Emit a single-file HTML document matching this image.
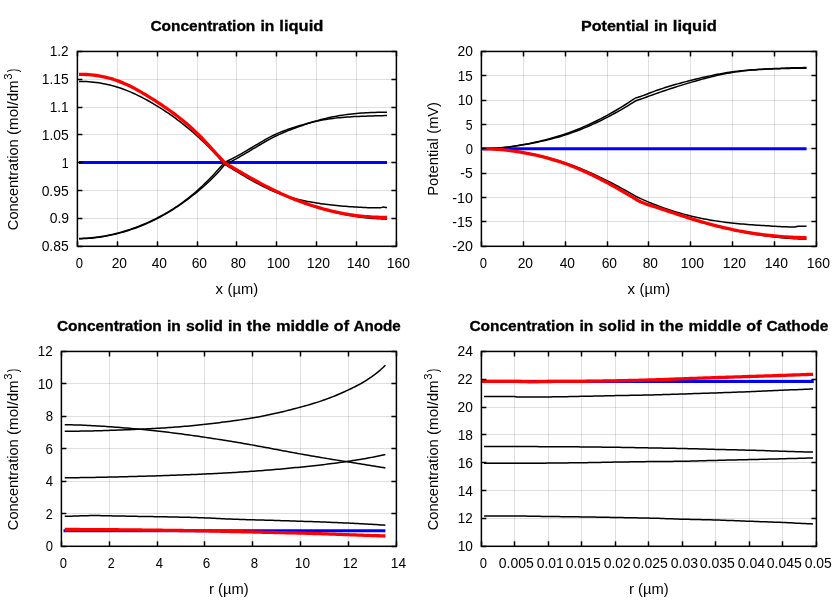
<!DOCTYPE html>
<html><head><meta charset="utf-8"><title>plots</title>
<style>html,body{margin:0;padding:0;background:#fff}svg{display:block;will-change:transform}text{font-family:"Liberation Sans",sans-serif;font-size:14.0px;fill:#000}</style>
</head><body>
<svg width="840" height="600" viewBox="0 0 840 600">
<rect width="840" height="600" fill="#fff"/>
<g id="p1">
<line x1="117.5" y1="51.45" x2="117.5" y2="246.3" stroke="#000" stroke-opacity="0.125" stroke-width="1"/>
<line x1="157.5" y1="51.45" x2="157.5" y2="246.3" stroke="#000" stroke-opacity="0.125" stroke-width="1"/>
<line x1="197.5" y1="51.45" x2="197.5" y2="246.3" stroke="#000" stroke-opacity="0.125" stroke-width="1"/>
<line x1="236.5" y1="51.45" x2="236.5" y2="246.3" stroke="#000" stroke-opacity="0.125" stroke-width="1"/>
<line x1="276.5" y1="51.45" x2="276.5" y2="246.3" stroke="#000" stroke-opacity="0.125" stroke-width="1"/>
<line x1="316.5" y1="51.45" x2="316.5" y2="246.3" stroke="#000" stroke-opacity="0.125" stroke-width="1"/>
<line x1="356.5" y1="51.45" x2="356.5" y2="246.3" stroke="#000" stroke-opacity="0.125" stroke-width="1"/>
<line x1="77.4" y1="218.5" x2="396.4" y2="218.5" stroke="#000" stroke-opacity="0.125" stroke-width="1"/>
<line x1="77.4" y1="190.5" x2="396.4" y2="190.5" stroke="#000" stroke-opacity="0.125" stroke-width="1"/>
<line x1="77.4" y1="162.5" x2="396.4" y2="162.5" stroke="#000" stroke-opacity="0.125" stroke-width="1"/>
<line x1="77.4" y1="134.5" x2="396.4" y2="134.5" stroke="#000" stroke-opacity="0.125" stroke-width="1"/>
<line x1="77.4" y1="107.5" x2="396.4" y2="107.5" stroke="#000" stroke-opacity="0.125" stroke-width="1"/>
<line x1="77.4" y1="79.5" x2="396.4" y2="79.5" stroke="#000" stroke-opacity="0.125" stroke-width="1"/>
<path d="M79.00 162.50 L387.03 162.50" fill="none" stroke="#0000ff" stroke-width="3.0" stroke-linejoin="round"/>
<path d="M79.00 238.40 L81.47 238.38 L83.94 238.31 L86.41 238.19 L88.88 238.03 L91.35 237.82 L93.82 237.57 L96.29 237.28 L98.76 236.95 L101.23 236.58 L103.70 236.16 L106.17 235.71 L108.64 235.21 L111.11 234.68 L113.58 234.12 L116.05 233.51 L118.52 232.87 L120.99 232.20 L123.46 231.49 L125.93 230.74 L128.40 229.96 L130.87 229.14 L133.34 228.28 L135.81 227.39 L138.28 226.45 L140.75 225.48 L143.22 224.47 L145.69 223.42 L148.16 222.32 L150.63 221.19 L153.10 220.02 L155.57 218.80 L158.04 217.54 L160.51 216.24 L162.98 214.89 L165.45 213.50 L167.92 212.06 L170.39 210.56 L172.86 209.02 L175.33 207.42 L177.80 205.77 L180.27 204.06 L182.74 202.29 L185.21 200.45 L187.68 198.56 L190.16 196.60 L192.63 194.58 L195.10 192.48 L197.57 190.32 L200.04 188.09 L202.51 185.78 L204.98 183.41 L207.45 180.98 L209.92 178.48 L212.39 175.91 L214.86 173.29 L217.33 170.60 L219.80 167.86 L222.27 165.06 L224.74 162.20 L227.09 161.16 L229.44 160.05 L231.79 158.89 L234.15 157.68 L236.50 156.42 L238.85 155.12 L241.20 153.79 L243.55 152.43 L245.91 151.05 L248.26 149.65 L250.61 148.25 L252.96 146.84 L255.31 145.43 L257.67 144.04 L260.02 142.66 L262.37 141.30 L264.72 139.97 L267.07 138.67 L269.43 137.41 L271.78 136.20 L274.13 135.04 L276.48 133.93 L278.84 132.89 L281.19 131.91 L283.54 130.98 L285.89 130.11 L288.24 129.27 L290.60 128.48 L292.95 127.71 L295.30 126.98 L297.65 126.27 L300.00 125.57 L302.36 124.89 L304.71 124.22 L307.06 123.57 L309.41 122.95 L311.76 122.35 L314.12 121.78 L316.47 121.24 L318.82 120.74 L321.17 120.27 L323.52 119.84 L325.88 119.44 L328.23 119.07 L330.58 118.73 L332.93 118.42 L335.28 118.13 L337.64 117.87 L339.99 117.64 L342.34 117.42 L344.69 117.22 L347.04 117.05 L349.40 116.89 L351.75 116.75 L354.10 116.62 L356.45 116.50 L358.80 116.40 L361.16 116.31 L363.51 116.22 L365.86 116.14 L368.21 116.07 L370.57 116.00 L372.92 115.93 L375.27 115.87 L377.62 115.80 L379.97 115.73 L382.33 115.66 L384.68 115.58 L387.03 115.50" fill="none" stroke="#000" stroke-width="1.5" stroke-linejoin="round"/>
<path d="M79.00 238.70 L81.47 238.68 L83.94 238.61 L86.41 238.49 L88.88 238.33 L91.35 238.13 L93.82 237.88 L96.29 237.60 L98.76 237.27 L101.23 236.90 L103.70 236.49 L106.17 236.05 L108.64 235.57 L111.11 235.05 L113.58 234.49 L116.05 233.90 L118.52 233.28 L120.99 232.63 L123.46 231.94 L125.93 231.21 L128.40 230.45 L130.87 229.65 L133.34 228.81 L135.81 227.93 L138.28 227.02 L140.75 226.06 L143.22 225.06 L145.69 224.02 L148.16 222.93 L150.63 221.80 L153.10 220.63 L155.57 219.41 L158.04 218.14 L160.51 216.82 L162.98 215.45 L165.45 214.04 L167.92 212.58 L170.39 211.08 L172.86 209.53 L175.33 207.93 L177.80 206.29 L180.27 204.60 L182.74 202.87 L185.21 201.10 L187.68 199.28 L190.16 197.41 L192.63 195.50 L195.10 193.55 L197.57 191.56 L200.04 189.52 L202.51 187.43 L204.98 185.27 L207.45 183.04 L209.92 180.73 L212.39 178.33 L214.86 175.82 L217.33 173.21 L219.80 170.47 L222.27 167.60 L224.74 164.60 L227.09 163.50 L229.44 162.35 L231.79 161.15 L234.15 159.91 L236.50 158.62 L238.85 157.30 L241.20 155.96 L243.55 154.58 L245.91 153.19 L248.26 151.79 L250.61 150.38 L252.96 148.96 L255.31 147.55 L257.67 146.14 L260.02 144.74 L262.37 143.36 L264.72 142.01 L267.07 140.68 L269.43 139.38 L271.78 138.12 L274.13 136.91 L276.48 135.74 L278.84 134.63 L281.19 133.56 L283.54 132.54 L285.89 131.56 L288.24 130.61 L290.60 129.70 L292.95 128.81 L295.30 127.95 L297.65 127.10 L300.00 126.26 L302.36 125.44 L304.71 124.62 L307.06 123.82 L309.41 123.04 L311.76 122.29 L314.12 121.55 L316.47 120.85 L318.82 120.18 L321.17 119.55 L323.52 118.95 L325.88 118.38 L328.23 117.84 L330.58 117.33 L332.93 116.85 L335.28 116.40 L337.64 115.98 L339.99 115.58 L342.34 115.21 L344.69 114.87 L347.04 114.55 L349.40 114.25 L351.75 113.98 L354.10 113.73 L356.45 113.51 L358.80 113.30 L361.16 113.12 L363.51 112.95 L365.86 112.80 L368.21 112.67 L370.57 112.56 L372.92 112.47 L375.27 112.39 L377.62 112.32 L379.97 112.27 L382.33 112.24 L384.68 112.21 L387.03 112.20" fill="none" stroke="#000" stroke-width="1.5" stroke-linejoin="round"/>
<path d="M79.00 81.40 L81.47 81.42 L83.94 81.49 L86.41 81.60 L88.88 81.75 L91.35 81.96 L93.82 82.21 L96.29 82.50 L98.76 82.85 L101.23 83.25 L103.70 83.70 L106.17 84.19 L108.64 84.75 L111.11 85.35 L113.58 86.01 L116.05 86.72 L118.52 87.49 L120.99 88.32 L123.46 89.20 L125.93 90.13 L128.40 91.12 L130.87 92.16 L133.34 93.24 L135.81 94.37 L138.28 95.56 L140.75 96.78 L143.22 98.05 L145.69 99.37 L148.16 100.73 L150.63 102.12 L153.10 103.56 L155.57 105.04 L158.04 106.55 L160.51 108.10 L162.98 109.69 L165.45 111.32 L167.92 112.98 L170.39 114.69 L172.86 116.44 L175.33 118.23 L177.80 120.06 L180.27 121.94 L182.74 123.86 L185.21 125.83 L187.68 127.84 L190.16 129.91 L192.63 132.02 L195.10 134.18 L197.57 136.39 L200.04 138.65 L202.51 140.97 L204.98 143.33 L207.45 145.76 L209.92 148.23 L212.39 150.77 L214.86 153.36 L217.33 156.00 L219.80 158.71 L222.27 161.47 L224.74 164.30 L226.97 165.66 L229.21 167.03 L231.45 168.39 L233.68 169.75 L235.92 171.11 L238.16 172.46 L240.39 173.80 L242.63 175.12 L244.87 176.44 L247.10 177.74 L249.34 179.02 L251.58 180.28 L253.81 181.53 L256.05 182.75 L258.29 183.94 L260.52 185.11 L262.76 186.25 L264.99 187.35 L267.23 188.43 L269.47 189.47 L271.70 190.47 L273.94 191.44 L276.18 192.36 L278.41 193.24 L280.65 194.08 L282.89 194.88 L285.12 195.64 L287.36 196.36 L289.60 197.04 L291.83 197.69 L294.07 198.31 L296.31 198.89 L298.54 199.45 L300.78 199.97 L303.01 200.47 L305.25 200.94 L307.49 201.39 L309.72 201.81 L311.96 202.22 L314.20 202.60 L316.43 202.97 L318.67 203.31 L320.91 203.64 L323.14 203.96 L325.38 204.26 L327.62 204.54 L329.85 204.81 L332.09 205.07 L334.33 205.31 L336.56 205.54 L338.80 205.76 L341.03 205.97 L343.27 206.16 L345.51 206.34 L347.74 206.51 L349.98 206.68 L352.22 206.83 L354.45 206.97 L356.69 207.11 L358.93 207.24 L361.16 207.35 L363.40 207.46 L365.64 207.56 L367.87 207.64 L370.11 207.72 L372.34 207.77 L374.58 207.82 L376.82 207.84 L379.05 207.85 L379.78 207.80 L380.50 207.72 L381.23 207.60 L381.25 207.60 L381.95 207.39 L382.68 207.14 L383.04 207.10 L383.40 207.11 L384.13 207.20 L384.84 207.30 L384.85 207.30 L385.58 207.41 L386.30 207.55 L387.03 207.70" fill="none" stroke="#000" stroke-width="1.5" stroke-linejoin="round"/>
<path d="M79.00 74.30 L81.47 74.32 L83.94 74.39 L86.41 74.51 L88.88 74.68 L91.35 74.90 L93.82 75.17 L96.29 75.49 L98.76 75.88 L101.23 76.32 L103.70 76.82 L106.17 77.38 L108.64 78.00 L111.11 78.69 L113.58 79.44 L116.05 80.27 L118.52 81.16 L120.99 82.12 L123.46 83.14 L125.93 84.23 L128.40 85.37 L130.87 86.57 L133.34 87.83 L135.81 89.13 L138.28 90.48 L140.75 91.88 L143.22 93.31 L145.69 94.78 L148.16 96.29 L150.63 97.82 L153.10 99.39 L155.57 100.97 L158.04 102.58 L160.51 104.21 L162.98 105.87 L165.45 107.55 L167.92 109.27 L170.39 111.02 L172.86 112.81 L175.33 114.65 L177.80 116.53 L180.27 118.46 L182.74 120.45 L185.21 122.50 L187.68 124.60 L190.16 126.78 L192.63 129.02 L195.10 131.34 L197.57 133.73 L200.04 136.20 L202.51 138.74 L204.98 141.33 L207.45 143.97 L209.92 146.64 L212.39 149.34 L214.86 152.05 L217.33 154.76 L219.80 157.46 L222.27 160.15 L224.74 162.80 L227.09 164.19 L229.44 165.59 L231.79 166.98 L234.15 168.37 L236.50 169.76 L238.85 171.15 L241.20 172.53 L243.55 173.90 L245.91 175.26 L248.26 176.61 L250.61 177.96 L252.96 179.29 L255.31 180.60 L257.67 181.91 L260.02 183.19 L262.37 184.47 L264.72 185.72 L267.07 186.95 L269.43 188.16 L271.78 189.35 L274.13 190.52 L276.48 191.66 L278.84 192.78 L281.19 193.87 L283.54 194.93 L285.89 195.97 L288.24 196.99 L290.60 197.98 L292.95 198.95 L295.30 199.89 L297.65 200.81 L300.00 201.71 L302.36 202.58 L304.71 203.43 L307.06 204.25 L309.41 205.06 L311.76 205.84 L314.12 206.60 L316.47 207.34 L318.82 208.06 L321.17 208.76 L323.52 209.44 L325.88 210.09 L328.23 210.72 L330.58 211.33 L332.93 211.92 L335.28 212.49 L337.64 213.04 L339.99 213.56 L342.34 214.06 L344.69 214.54 L347.04 214.99 L349.40 215.43 L351.75 215.84 L354.10 216.22 L356.45 216.59 L358.80 216.93 L361.16 217.25 L363.51 217.54 L365.86 217.81 L368.21 218.05 L370.57 218.27 L372.92 218.46 L375.27 218.62 L377.62 218.76 L379.97 218.86 L382.33 218.94 L384.68 218.98 L387.03 219.00" fill="none" stroke="#000" stroke-width="1.5" stroke-linejoin="round"/>
<path d="M79.00 74.30 L81.47 74.32 L83.94 74.39 L86.41 74.51 L88.88 74.68 L91.35 74.90 L93.82 75.17 L96.29 75.49 L98.76 75.88 L101.23 76.32 L103.70 76.82 L106.17 77.38 L108.64 78.00 L111.11 78.69 L113.58 79.44 L116.05 80.27 L118.52 81.16 L120.99 82.12 L123.46 83.14 L125.93 84.23 L128.40 85.37 L130.87 86.57 L133.34 87.83 L135.81 89.13 L138.28 90.48 L140.75 91.88 L143.22 93.31 L145.69 94.78 L148.16 96.29 L150.63 97.82 L153.10 99.39 L155.57 100.97 L158.04 102.58 L160.51 104.21 L162.98 105.87 L165.45 107.55 L167.92 109.27 L170.39 111.02 L172.86 112.81 L175.33 114.65 L177.80 116.53 L180.27 118.46 L182.74 120.45 L185.21 122.50 L187.68 124.60 L190.16 126.78 L192.63 129.02 L195.10 131.34 L197.57 133.73 L200.04 136.20 L202.51 138.74 L204.98 141.33 L207.45 143.97 L209.92 146.64 L212.39 149.34 L214.86 152.05 L217.33 154.76 L219.80 157.46 L222.27 160.15 L224.74 162.80 L227.09 164.20 L229.44 165.60 L231.79 166.99 L234.15 168.38 L236.50 169.76 L238.85 171.14 L241.20 172.51 L243.55 173.88 L245.91 175.23 L248.26 176.57 L250.61 177.91 L252.96 179.22 L255.31 180.53 L257.67 181.82 L260.02 183.09 L262.37 184.35 L264.72 185.59 L267.07 186.80 L269.43 188.00 L271.78 189.18 L274.13 190.33 L276.48 191.46 L278.84 192.57 L281.19 193.65 L283.54 194.70 L285.89 195.73 L288.24 196.74 L290.60 197.72 L292.95 198.68 L295.30 199.61 L297.65 200.52 L300.00 201.40 L302.36 202.26 L304.71 203.10 L307.06 203.92 L309.41 204.71 L311.76 205.48 L314.12 206.22 L316.47 206.95 L318.82 207.65 L321.17 208.32 L323.52 208.98 L325.88 209.61 L328.23 210.22 L330.58 210.80 L332.93 211.36 L335.28 211.89 L337.64 212.41 L339.99 212.89 L342.34 213.35 L344.69 213.79 L347.04 214.20 L349.40 214.59 L351.75 214.95 L354.10 215.28 L356.45 215.59 L358.80 215.87 L361.16 216.13 L363.51 216.36 L365.86 216.56 L368.21 216.75 L370.57 216.90 L372.92 217.04 L375.27 217.15 L377.62 217.24 L379.97 217.31 L382.33 217.36 L384.68 217.39 L387.03 217.40" fill="none" stroke="#ff0000" stroke-width="3.3" stroke-linejoin="round"/>
<line x1="77.5" y1="246.3" x2="77.5" y2="241.3" stroke="#000" stroke-width="1.5"/>
<line x1="77.5" y1="51.45" x2="77.5" y2="56.45" stroke="#000" stroke-width="1.5"/>
<text x="75.77" y="267.70" textLength="7.25" lengthAdjust="spacingAndGlyphs" style="font-size:14.1px">0</text>
<line x1="117.5" y1="246.3" x2="117.5" y2="241.3" stroke="#000" stroke-width="1.5"/>
<line x1="117.5" y1="51.45" x2="117.5" y2="56.45" stroke="#000" stroke-width="1.5"/>
<text x="111.68" y="267.70" textLength="15.37" lengthAdjust="spacingAndGlyphs" style="font-size:14.1px">20</text>
<line x1="157.5" y1="246.3" x2="157.5" y2="241.3" stroke="#000" stroke-width="1.5"/>
<line x1="157.5" y1="51.45" x2="157.5" y2="56.45" stroke="#000" stroke-width="1.5"/>
<text x="151.73" y="267.70" textLength="15.32" lengthAdjust="spacingAndGlyphs" style="font-size:14.1px">40</text>
<line x1="197.5" y1="246.3" x2="197.5" y2="241.3" stroke="#000" stroke-width="1.5"/>
<line x1="197.5" y1="51.45" x2="197.5" y2="56.45" stroke="#000" stroke-width="1.5"/>
<text x="191.63" y="267.70" textLength="15.43" lengthAdjust="spacingAndGlyphs" style="font-size:14.1px">60</text>
<line x1="236.5" y1="246.3" x2="236.5" y2="241.3" stroke="#000" stroke-width="1.5"/>
<line x1="236.5" y1="51.45" x2="236.5" y2="56.45" stroke="#000" stroke-width="1.5"/>
<text x="230.71" y="267.70" textLength="15.35" lengthAdjust="spacingAndGlyphs" style="font-size:14.1px">80</text>
<line x1="276.5" y1="246.3" x2="276.5" y2="241.3" stroke="#000" stroke-width="1.5"/>
<line x1="276.5" y1="51.45" x2="276.5" y2="56.45" stroke="#000" stroke-width="1.5"/>
<text x="266.80" y="267.70" textLength="23.26" lengthAdjust="spacingAndGlyphs" style="font-size:14.1px">100</text>
<line x1="316.5" y1="246.3" x2="316.5" y2="241.3" stroke="#000" stroke-width="1.5"/>
<line x1="316.5" y1="51.45" x2="316.5" y2="56.45" stroke="#000" stroke-width="1.5"/>
<text x="306.80" y="267.70" textLength="23.26" lengthAdjust="spacingAndGlyphs" style="font-size:14.1px">120</text>
<line x1="356.5" y1="246.3" x2="356.5" y2="241.3" stroke="#000" stroke-width="1.5"/>
<line x1="356.5" y1="51.45" x2="356.5" y2="56.45" stroke="#000" stroke-width="1.5"/>
<text x="346.80" y="267.70" textLength="23.26" lengthAdjust="spacingAndGlyphs" style="font-size:14.1px">140</text>
<line x1="396.5" y1="246.3" x2="396.5" y2="241.3" stroke="#000" stroke-width="1.5"/>
<line x1="396.5" y1="51.45" x2="396.5" y2="56.45" stroke="#000" stroke-width="1.5"/>
<text x="386.80" y="267.70" textLength="23.26" lengthAdjust="spacingAndGlyphs" style="font-size:14.1px">160</text>
<line x1="77.4" y1="246.5" x2="82.4" y2="246.5" stroke="#000" stroke-width="1.5"/>
<line x1="396.4" y1="246.5" x2="391.4" y2="246.5" stroke="#000" stroke-width="1.5"/>
<text x="41.64" y="250.90" textLength="27.08" lengthAdjust="spacingAndGlyphs" style="font-size:14.1px">0.85</text>
<line x1="77.4" y1="218.5" x2="82.4" y2="218.5" stroke="#000" stroke-width="1.5"/>
<line x1="396.4" y1="218.5" x2="391.4" y2="218.5" stroke="#000" stroke-width="1.5"/>
<text x="49.63" y="222.90" textLength="19.39" lengthAdjust="spacingAndGlyphs" style="font-size:14.1px">0.9</text>
<line x1="77.4" y1="190.5" x2="82.4" y2="190.5" stroke="#000" stroke-width="1.5"/>
<line x1="396.4" y1="190.5" x2="391.4" y2="190.5" stroke="#000" stroke-width="1.5"/>
<text x="41.64" y="195.90" textLength="27.08" lengthAdjust="spacingAndGlyphs" style="font-size:14.1px">0.95</text>
<line x1="77.4" y1="162.5" x2="82.4" y2="162.5" stroke="#000" stroke-width="1.5"/>
<line x1="396.4" y1="162.5" x2="391.4" y2="162.5" stroke="#000" stroke-width="1.5"/>
<text x="61.83" y="167.90" textLength="6.84" lengthAdjust="spacingAndGlyphs" style="font-size:14.1px">1</text>
<line x1="77.4" y1="134.5" x2="82.4" y2="134.5" stroke="#000" stroke-width="1.5"/>
<line x1="396.4" y1="134.5" x2="391.4" y2="134.5" stroke="#000" stroke-width="1.5"/>
<text x="41.71" y="139.90" textLength="27.01" lengthAdjust="spacingAndGlyphs" style="font-size:14.1px">1.05</text>
<line x1="77.4" y1="107.5" x2="82.4" y2="107.5" stroke="#000" stroke-width="1.5"/>
<line x1="396.4" y1="107.5" x2="391.4" y2="107.5" stroke="#000" stroke-width="1.5"/>
<text x="49.72" y="111.90" textLength="19.01" lengthAdjust="spacingAndGlyphs" style="font-size:14.1px">1.1</text>
<line x1="77.4" y1="79.5" x2="82.4" y2="79.5" stroke="#000" stroke-width="1.5"/>
<line x1="396.4" y1="79.5" x2="391.4" y2="79.5" stroke="#000" stroke-width="1.5"/>
<text x="41.71" y="83.90" textLength="27.01" lengthAdjust="spacingAndGlyphs" style="font-size:14.1px">1.15</text>
<line x1="77.4" y1="51.5" x2="82.4" y2="51.5" stroke="#000" stroke-width="1.5"/>
<line x1="396.4" y1="51.5" x2="391.4" y2="51.5" stroke="#000" stroke-width="1.5"/>
<text x="49.73" y="55.90" textLength="18.92" lengthAdjust="spacingAndGlyphs" style="font-size:14.1px">1.2</text>
<rect x="77.4" y="51.45" width="319.0" height="194.85000000000002" fill="none" stroke="#000" stroke-width="1.5"/>
<text x="215.62" y="293.50" textLength="7.51" lengthAdjust="spacingAndGlyphs" style="font-size:14.0px">x</text>
<text x="227.63" y="293.50" textLength="30.53" lengthAdjust="spacingAndGlyphs" style="font-size:14.0px">(µm)</text>
<text x="150.43" y="30.65" textLength="104.89" lengthAdjust="spacingAndGlyphs" font-weight="bold" stroke="#000" stroke-width="0.3" style="font-size:14.0px">Concentration</text>
<text x="260.43" y="30.65" textLength="13.90" lengthAdjust="spacingAndGlyphs" font-weight="bold" stroke="#000" stroke-width="0.3" style="font-size:14.0px">in</text>
<text x="279.37" y="30.65" textLength="44.00" lengthAdjust="spacingAndGlyphs" font-weight="bold" stroke="#000" stroke-width="0.3" style="font-size:14.0px">liquid</text>
<g transform="rotate(-90 17.60 149.18)">
<text x="-63.39" y="149.18" textLength="90.81" lengthAdjust="spacingAndGlyphs" style="font-size:14.0px">Concentration</text>
<text x="31.81" y="149.18" textLength="54.66" lengthAdjust="spacingAndGlyphs" style="font-size:14.0px">(mol/dm</text>
<text x="86.98" y="143.48" textLength="6.26" lengthAdjust="spacingAndGlyphs" style="font-size:11.2px">3</text>
<text x="94.61" y="149.18" textLength="3.50" lengthAdjust="spacingAndGlyphs" style="font-size:14.0px">)</text>
</g>
</g>
<g id="p2">
<line x1="523.5" y1="51.45" x2="523.5" y2="246.3" stroke="#000" stroke-opacity="0.125" stroke-width="1"/>
<line x1="565.5" y1="51.45" x2="565.5" y2="246.3" stroke="#000" stroke-opacity="0.125" stroke-width="1"/>
<line x1="607.5" y1="51.45" x2="607.5" y2="246.3" stroke="#000" stroke-opacity="0.125" stroke-width="1"/>
<line x1="648.5" y1="51.45" x2="648.5" y2="246.3" stroke="#000" stroke-opacity="0.125" stroke-width="1"/>
<line x1="690.5" y1="51.45" x2="690.5" y2="246.3" stroke="#000" stroke-opacity="0.125" stroke-width="1"/>
<line x1="732.5" y1="51.45" x2="732.5" y2="246.3" stroke="#000" stroke-opacity="0.125" stroke-width="1"/>
<line x1="774.5" y1="51.45" x2="774.5" y2="246.3" stroke="#000" stroke-opacity="0.125" stroke-width="1"/>
<line x1="481.4" y1="221.5" x2="816.4" y2="221.5" stroke="#000" stroke-opacity="0.125" stroke-width="1"/>
<line x1="481.4" y1="197.5" x2="816.4" y2="197.5" stroke="#000" stroke-opacity="0.125" stroke-width="1"/>
<line x1="481.4" y1="173.5" x2="816.4" y2="173.5" stroke="#000" stroke-opacity="0.125" stroke-width="1"/>
<line x1="481.4" y1="148.5" x2="816.4" y2="148.5" stroke="#000" stroke-opacity="0.125" stroke-width="1"/>
<line x1="481.4" y1="124.5" x2="816.4" y2="124.5" stroke="#000" stroke-opacity="0.125" stroke-width="1"/>
<line x1="481.4" y1="100.5" x2="816.4" y2="100.5" stroke="#000" stroke-opacity="0.125" stroke-width="1"/>
<line x1="481.4" y1="75.5" x2="816.4" y2="75.5" stroke="#000" stroke-opacity="0.125" stroke-width="1"/>
<path d="M482.03 148.80 L806.56 148.80" fill="none" stroke="#0000ff" stroke-width="3.0" stroke-linejoin="round"/>
<path d="M483.07 148.80 L485.66 148.78 L488.24 148.72 L490.83 148.61 L493.41 148.47 L495.99 148.29 L498.58 148.08 L501.16 147.83 L503.74 147.55 L506.33 147.24 L508.91 146.91 L511.49 146.54 L514.08 146.16 L516.66 145.75 L519.24 145.31 L521.83 144.86 L524.41 144.39 L526.99 143.90 L529.58 143.40 L532.16 142.87 L534.74 142.33 L537.33 141.76 L539.91 141.17 L542.49 140.55 L545.08 139.91 L547.66 139.25 L550.25 138.56 L552.83 137.84 L555.41 137.09 L558.00 136.32 L560.58 135.51 L563.16 134.67 L565.75 133.80 L568.33 132.89 L570.91 131.95 L573.50 130.98 L576.08 129.97 L578.66 128.93 L581.25 127.86 L583.83 126.76 L586.41 125.62 L589.00 124.45 L591.58 123.25 L594.16 122.02 L596.75 120.75 L599.33 119.45 L601.91 118.12 L604.50 116.76 L607.08 115.37 L609.67 113.94 L612.25 112.49 L614.83 111.00 L617.42 109.48 L620.00 107.94 L622.58 106.36 L625.17 104.75 L627.75 103.10 L630.33 101.43 L632.92 99.73 L635.50 98.00 L637.98 97.31 L640.46 96.51 L642.94 95.63 L645.42 94.70 L647.90 93.74 L650.37 92.78 L652.85 91.83 L655.33 90.92 L657.81 90.04 L660.29 89.18 L662.77 88.36 L665.25 87.55 L667.73 86.78 L670.21 86.02 L672.69 85.28 L675.17 84.57 L677.65 83.87 L680.12 83.19 L682.60 82.52 L685.08 81.86 L687.56 81.22 L690.04 80.59 L692.52 79.96 L695.00 79.34 L697.48 78.74 L699.96 78.14 L702.44 77.55 L704.92 76.98 L707.39 76.42 L709.87 75.88 L712.35 75.36 L714.83 74.85 L717.31 74.36 L719.79 73.89 L722.27 73.43 L724.75 73.01 L727.23 72.60 L729.71 72.22 L732.19 71.86 L734.66 71.53 L737.14 71.23 L739.62 70.95 L742.10 70.69 L744.58 70.45 L747.06 70.23 L749.54 70.03 L752.02 69.84 L754.50 69.67 L756.98 69.51 L759.46 69.36 L761.94 69.22 L764.41 69.09 L766.89 68.96 L769.37 68.84 L771.85 68.72 L774.33 68.61 L776.81 68.49 L779.29 68.38 L781.77 68.27 L784.25 68.16 L786.73 68.06 L789.21 67.96 L791.68 67.87 L794.16 67.80 L796.64 67.73 L799.12 67.67 L801.60 67.63 L804.08 67.61 L806.56 67.60" fill="none" stroke="#000" stroke-width="1.5" stroke-linejoin="round"/>
<path d="M483.07 148.80 L485.66 148.78 L488.24 148.72 L490.83 148.62 L493.41 148.48 L495.99 148.31 L498.58 148.10 L501.16 147.86 L503.74 147.59 L506.33 147.30 L508.91 146.98 L511.49 146.63 L514.08 146.26 L516.66 145.87 L519.24 145.47 L521.83 145.04 L524.41 144.61 L526.99 144.15 L529.58 143.69 L532.16 143.20 L534.74 142.70 L537.33 142.18 L539.91 141.63 L542.49 141.07 L545.08 140.48 L547.66 139.87 L550.25 139.23 L552.83 138.57 L555.41 137.88 L558.00 137.16 L560.58 136.41 L563.16 135.62 L565.75 134.81 L568.33 133.96 L570.91 133.08 L573.50 132.16 L576.08 131.21 L578.66 130.23 L581.25 129.22 L583.83 128.17 L586.41 127.09 L589.00 125.99 L591.58 124.85 L594.16 123.68 L596.75 122.47 L599.33 121.24 L601.91 119.98 L604.50 118.69 L607.08 117.37 L609.67 116.02 L612.25 114.64 L614.83 113.24 L617.42 111.80 L620.00 110.34 L622.58 108.85 L625.17 107.33 L627.75 105.79 L630.33 104.22 L632.92 102.62 L635.50 101.00 L637.98 100.02 L640.46 99.20 L642.94 98.34 L645.42 97.46 L647.90 96.56 L650.37 95.65 L652.85 94.76 L655.33 93.87 L657.81 92.99 L660.29 92.13 L662.77 91.28 L665.25 90.44 L667.73 89.61 L670.21 88.79 L672.69 87.98 L675.17 87.19 L677.65 86.40 L680.12 85.62 L682.60 84.86 L685.08 84.10 L687.56 83.35 L690.04 82.62 L692.52 81.89 L695.00 81.17 L697.48 80.47 L699.96 79.78 L702.44 79.10 L704.92 78.43 L707.39 77.79 L709.87 77.16 L712.35 76.55 L714.83 75.96 L717.31 75.39 L719.79 74.84 L722.27 74.31 L724.75 73.81 L727.23 73.34 L729.71 72.89 L732.19 72.48 L734.66 72.09 L737.14 71.72 L739.62 71.39 L742.10 71.08 L744.58 70.80 L747.06 70.54 L749.54 70.30 L752.02 70.08 L754.50 69.88 L756.98 69.70 L759.46 69.53 L761.94 69.38 L764.41 69.25 L766.89 69.12 L769.37 69.01 L771.85 68.90 L774.33 68.81 L776.81 68.72 L779.29 68.64 L781.77 68.56 L784.25 68.49 L786.73 68.43 L789.21 68.38 L791.68 68.33 L794.16 68.29 L796.64 68.26 L799.12 68.23 L801.60 68.21 L804.08 68.20 L806.56 68.20" fill="none" stroke="#000" stroke-width="1.5" stroke-linejoin="round"/>
<path d="M483.07 148.80 L485.66 148.82 L488.24 148.86 L490.83 148.94 L493.41 149.04 L495.99 149.18 L498.58 149.34 L501.16 149.54 L503.74 149.76 L506.33 150.01 L508.91 150.28 L511.49 150.59 L514.08 150.92 L516.66 151.27 L519.24 151.65 L521.83 152.06 L524.41 152.49 L526.99 152.95 L529.58 153.43 L532.16 153.94 L534.74 154.47 L537.33 155.03 L539.91 155.62 L542.49 156.23 L545.08 156.87 L547.66 157.54 L550.25 158.23 L552.83 158.96 L555.41 159.71 L558.00 160.49 L560.58 161.30 L563.16 162.13 L565.75 163.00 L568.33 163.90 L570.91 164.83 L573.50 165.78 L576.08 166.77 L578.66 167.78 L581.25 168.82 L583.83 169.89 L586.41 170.98 L589.00 172.10 L591.58 173.24 L594.16 174.41 L596.75 175.61 L599.33 176.83 L601.91 178.07 L604.50 179.34 L607.08 180.63 L609.67 181.94 L612.25 183.27 L614.83 184.63 L617.42 186.01 L620.00 187.41 L622.58 188.82 L625.17 190.26 L627.75 191.72 L630.33 193.19 L632.92 194.69 L635.50 196.20 L637.79 197.27 L640.08 198.33 L642.36 199.36 L644.65 200.37 L646.94 201.35 L649.23 202.32 L651.52 203.26 L653.80 204.18 L656.09 205.07 L658.38 205.95 L660.67 206.80 L662.96 207.63 L665.24 208.44 L667.53 209.23 L669.82 210.00 L672.11 210.74 L674.40 211.46 L676.68 212.16 L678.97 212.84 L681.26 213.50 L683.55 214.13 L685.83 214.75 L688.12 215.34 L690.41 215.91 L692.70 216.46 L694.99 216.99 L697.27 217.50 L699.56 217.98 L701.85 218.45 L704.14 218.90 L706.43 219.33 L708.71 219.74 L711.00 220.14 L713.29 220.52 L715.58 220.88 L717.87 221.22 L720.15 221.55 L722.44 221.87 L724.73 222.17 L727.02 222.45 L729.31 222.73 L731.59 222.98 L733.88 223.23 L736.17 223.47 L738.46 223.69 L740.75 223.90 L743.03 224.10 L745.32 224.30 L747.61 224.48 L749.90 224.66 L752.19 224.83 L754.47 224.99 L756.76 225.15 L759.05 225.30 L761.34 225.45 L763.63 225.59 L765.91 225.73 L768.20 225.87 L770.49 226.01 L772.78 226.15 L775.07 226.28 L777.35 226.42 L779.64 226.55 L781.93 226.67 L784.22 226.78 L786.50 226.87 L788.79 226.94 L791.08 226.98 L793.37 227.00 L794.57 226.93 L795.77 226.81 L795.88 226.80 L796.97 226.58 L798.17 226.32 L798.39 226.30 L799.36 226.25 L800.56 226.21 L801.74 226.20 L801.76 226.20 L802.96 226.20 L804.16 226.20 L805.36 226.20 L806.56 226.20" fill="none" stroke="#000" stroke-width="1.5" stroke-linejoin="round"/>
<path d="M483.07 148.80 L485.66 148.82 L488.24 148.87 L490.83 148.96 L493.41 149.07 L495.99 149.23 L498.58 149.41 L501.16 149.62 L503.74 149.86 L506.33 150.14 L508.91 150.44 L511.49 150.77 L514.08 151.12 L516.66 151.51 L519.24 151.91 L521.83 152.35 L524.41 152.80 L526.99 153.28 L529.58 153.79 L532.16 154.32 L534.74 154.88 L537.33 155.46 L539.91 156.07 L542.49 156.71 L545.08 157.38 L547.66 158.07 L550.25 158.80 L552.83 159.55 L555.41 160.34 L558.00 161.16 L560.58 162.01 L563.16 162.90 L565.75 163.82 L568.33 164.77 L570.91 165.75 L573.50 166.77 L576.08 167.82 L578.66 168.90 L581.25 170.02 L583.83 171.16 L586.41 172.33 L589.00 173.53 L591.58 174.75 L594.16 176.00 L596.75 177.28 L599.33 178.58 L601.91 179.91 L604.50 181.26 L607.08 182.63 L609.67 184.02 L612.25 185.44 L614.83 186.88 L617.42 188.33 L620.00 189.80 L622.58 191.30 L625.17 192.81 L627.75 194.33 L630.33 195.87 L632.92 197.43 L635.50 199.00 L637.98 200.47 L640.46 201.73 L642.94 202.80 L645.42 203.75 L647.90 204.60 L650.37 205.40 L652.85 206.20 L655.33 207.00 L657.81 207.81 L660.29 208.64 L662.77 209.47 L665.25 210.30 L667.73 211.14 L670.21 211.98 L672.69 212.82 L675.17 213.66 L677.65 214.50 L680.12 215.33 L682.60 216.15 L685.08 216.97 L687.56 217.77 L690.04 218.57 L692.52 219.35 L695.00 220.11 L697.48 220.87 L699.96 221.60 L702.44 222.33 L704.92 223.04 L707.39 223.73 L709.87 224.41 L712.35 225.08 L714.83 225.73 L717.31 226.37 L719.79 227.00 L722.27 227.61 L724.75 228.20 L727.23 228.78 L729.71 229.35 L732.19 229.90 L734.66 230.44 L737.14 230.96 L739.62 231.46 L742.10 231.96 L744.58 232.44 L747.06 232.90 L749.54 233.35 L752.02 233.78 L754.50 234.20 L756.98 234.60 L759.46 234.98 L761.94 235.36 L764.41 235.71 L766.89 236.05 L769.37 236.38 L771.85 236.68 L774.33 236.98 L776.81 237.25 L779.29 237.51 L781.77 237.76 L784.25 237.98 L786.73 238.18 L789.21 238.37 L791.68 238.53 L794.16 238.67 L796.64 238.79 L799.12 238.88 L801.60 238.95 L804.08 238.99 L806.56 239.00" fill="none" stroke="#000" stroke-width="1.5" stroke-linejoin="round"/>
<path d="M483.07 148.80 L485.66 148.82 L488.24 148.87 L490.83 148.96 L493.41 149.07 L495.99 149.23 L498.58 149.41 L501.16 149.62 L503.74 149.86 L506.33 150.14 L508.91 150.44 L511.49 150.77 L514.08 151.12 L516.66 151.51 L519.24 151.91 L521.83 152.35 L524.41 152.80 L526.99 153.28 L529.58 153.79 L532.16 154.32 L534.74 154.88 L537.33 155.46 L539.91 156.07 L542.49 156.71 L545.08 157.38 L547.66 158.07 L550.25 158.80 L552.83 159.55 L555.41 160.34 L558.00 161.16 L560.58 162.01 L563.16 162.90 L565.75 163.82 L568.33 164.77 L570.91 165.75 L573.50 166.77 L576.08 167.82 L578.66 168.90 L581.25 170.02 L583.83 171.16 L586.41 172.33 L589.00 173.53 L591.58 174.75 L594.16 176.00 L596.75 177.28 L599.33 178.58 L601.91 179.91 L604.50 181.26 L607.08 182.63 L609.67 184.02 L612.25 185.44 L614.83 186.88 L617.42 188.33 L620.00 189.80 L622.58 191.30 L625.17 192.81 L627.75 194.33 L630.33 195.87 L632.92 197.43 L635.50 199.00 L637.98 200.47 L640.46 201.73 L642.94 202.81 L645.42 203.75 L647.90 204.60 L650.37 205.40 L652.85 206.19 L655.33 206.99 L657.81 207.80 L660.29 208.61 L662.77 209.43 L665.25 210.25 L667.73 211.08 L670.21 211.91 L672.69 212.73 L675.17 213.55 L677.65 214.37 L680.12 215.19 L682.60 216.00 L685.08 216.80 L687.56 217.59 L690.04 218.37 L692.52 219.14 L695.00 219.89 L697.48 220.64 L699.96 221.36 L702.44 222.08 L704.92 222.78 L707.39 223.47 L709.87 224.14 L712.35 224.80 L714.83 225.44 L717.31 226.07 L719.79 226.68 L722.27 227.28 L724.75 227.86 L727.23 228.42 L729.71 228.97 L732.19 229.50 L734.66 230.02 L737.14 230.52 L739.62 231.00 L742.10 231.46 L744.58 231.91 L747.06 232.34 L749.54 232.75 L752.02 233.15 L754.50 233.53 L756.98 233.90 L759.46 234.24 L761.94 234.57 L764.41 234.89 L766.89 235.19 L769.37 235.47 L771.85 235.73 L774.33 235.98 L776.81 236.21 L779.29 236.43 L781.77 236.63 L784.25 236.81 L786.73 236.97 L789.21 237.12 L791.68 237.24 L794.16 237.35 L796.64 237.44 L799.12 237.51 L801.60 237.56 L804.08 237.59 L806.56 237.60" fill="none" stroke="#ff0000" stroke-width="3.3" stroke-linejoin="round"/>
<line x1="481.5" y1="246.3" x2="481.5" y2="241.3" stroke="#000" stroke-width="1.5"/>
<line x1="481.5" y1="51.45" x2="481.5" y2="56.45" stroke="#000" stroke-width="1.5"/>
<text x="479.77" y="267.70" textLength="7.25" lengthAdjust="spacingAndGlyphs" style="font-size:14.1px">0</text>
<line x1="523.5" y1="246.3" x2="523.5" y2="241.3" stroke="#000" stroke-width="1.5"/>
<line x1="523.5" y1="51.45" x2="523.5" y2="56.45" stroke="#000" stroke-width="1.5"/>
<text x="517.68" y="267.70" textLength="15.37" lengthAdjust="spacingAndGlyphs" style="font-size:14.1px">20</text>
<line x1="565.5" y1="246.3" x2="565.5" y2="241.3" stroke="#000" stroke-width="1.5"/>
<line x1="565.5" y1="51.45" x2="565.5" y2="56.45" stroke="#000" stroke-width="1.5"/>
<text x="559.73" y="267.70" textLength="15.32" lengthAdjust="spacingAndGlyphs" style="font-size:14.1px">40</text>
<line x1="607.5" y1="246.3" x2="607.5" y2="241.3" stroke="#000" stroke-width="1.5"/>
<line x1="607.5" y1="51.45" x2="607.5" y2="56.45" stroke="#000" stroke-width="1.5"/>
<text x="601.63" y="267.70" textLength="15.43" lengthAdjust="spacingAndGlyphs" style="font-size:14.1px">60</text>
<line x1="648.5" y1="246.3" x2="648.5" y2="241.3" stroke="#000" stroke-width="1.5"/>
<line x1="648.5" y1="51.45" x2="648.5" y2="56.45" stroke="#000" stroke-width="1.5"/>
<text x="642.71" y="267.70" textLength="15.35" lengthAdjust="spacingAndGlyphs" style="font-size:14.1px">80</text>
<line x1="690.5" y1="246.3" x2="690.5" y2="241.3" stroke="#000" stroke-width="1.5"/>
<line x1="690.5" y1="51.45" x2="690.5" y2="56.45" stroke="#000" stroke-width="1.5"/>
<text x="680.80" y="267.70" textLength="23.26" lengthAdjust="spacingAndGlyphs" style="font-size:14.1px">100</text>
<line x1="732.5" y1="246.3" x2="732.5" y2="241.3" stroke="#000" stroke-width="1.5"/>
<line x1="732.5" y1="51.45" x2="732.5" y2="56.45" stroke="#000" stroke-width="1.5"/>
<text x="722.80" y="267.70" textLength="23.26" lengthAdjust="spacingAndGlyphs" style="font-size:14.1px">120</text>
<line x1="774.5" y1="246.3" x2="774.5" y2="241.3" stroke="#000" stroke-width="1.5"/>
<line x1="774.5" y1="51.45" x2="774.5" y2="56.45" stroke="#000" stroke-width="1.5"/>
<text x="764.80" y="267.70" textLength="23.26" lengthAdjust="spacingAndGlyphs" style="font-size:14.1px">140</text>
<line x1="816.5" y1="246.3" x2="816.5" y2="241.3" stroke="#000" stroke-width="1.5"/>
<line x1="816.5" y1="51.45" x2="816.5" y2="56.45" stroke="#000" stroke-width="1.5"/>
<text x="806.80" y="267.70" textLength="23.26" lengthAdjust="spacingAndGlyphs" style="font-size:14.1px">160</text>
<line x1="481.4" y1="246.5" x2="486.4" y2="246.5" stroke="#000" stroke-width="1.5"/>
<line x1="816.4" y1="246.5" x2="811.4" y2="246.5" stroke="#000" stroke-width="1.5"/>
<text x="452.32" y="250.90" textLength="20.66" lengthAdjust="spacingAndGlyphs" style="font-size:14.1px">-20</text>
<line x1="481.4" y1="221.5" x2="486.4" y2="221.5" stroke="#000" stroke-width="1.5"/>
<line x1="816.4" y1="221.5" x2="811.4" y2="221.5" stroke="#000" stroke-width="1.5"/>
<text x="452.32" y="226.90" textLength="20.40" lengthAdjust="spacingAndGlyphs" style="font-size:14.1px">-15</text>
<line x1="481.4" y1="197.5" x2="486.4" y2="197.5" stroke="#000" stroke-width="1.5"/>
<line x1="816.4" y1="197.5" x2="811.4" y2="197.5" stroke="#000" stroke-width="1.5"/>
<text x="452.32" y="202.90" textLength="20.66" lengthAdjust="spacingAndGlyphs" style="font-size:14.1px">-10</text>
<line x1="481.4" y1="173.5" x2="486.4" y2="173.5" stroke="#000" stroke-width="1.5"/>
<line x1="816.4" y1="173.5" x2="811.4" y2="173.5" stroke="#000" stroke-width="1.5"/>
<text x="460.33" y="177.90" textLength="12.39" lengthAdjust="spacingAndGlyphs" style="font-size:14.1px">-5</text>
<line x1="481.4" y1="148.5" x2="486.4" y2="148.5" stroke="#000" stroke-width="1.5"/>
<line x1="816.4" y1="148.5" x2="811.4" y2="148.5" stroke="#000" stroke-width="1.5"/>
<text x="465.67" y="153.90" textLength="7.25" lengthAdjust="spacingAndGlyphs" style="font-size:14.1px">0</text>
<line x1="481.4" y1="124.5" x2="486.4" y2="124.5" stroke="#000" stroke-width="1.5"/>
<line x1="816.4" y1="124.5" x2="811.4" y2="124.5" stroke="#000" stroke-width="1.5"/>
<text x="465.84" y="129.90" textLength="6.81" lengthAdjust="spacingAndGlyphs" style="font-size:14.1px">5</text>
<line x1="481.4" y1="100.5" x2="486.4" y2="100.5" stroke="#000" stroke-width="1.5"/>
<line x1="816.4" y1="100.5" x2="811.4" y2="100.5" stroke="#000" stroke-width="1.5"/>
<text x="457.72" y="104.90" textLength="15.23" lengthAdjust="spacingAndGlyphs" style="font-size:14.1px">10</text>
<line x1="481.4" y1="75.5" x2="486.4" y2="75.5" stroke="#000" stroke-width="1.5"/>
<line x1="816.4" y1="75.5" x2="811.4" y2="75.5" stroke="#000" stroke-width="1.5"/>
<text x="457.74" y="80.90" textLength="14.96" lengthAdjust="spacingAndGlyphs" style="font-size:14.1px">15</text>
<line x1="481.4" y1="51.5" x2="486.4" y2="51.5" stroke="#000" stroke-width="1.5"/>
<line x1="816.4" y1="51.5" x2="811.4" y2="51.5" stroke="#000" stroke-width="1.5"/>
<text x="457.58" y="55.90" textLength="15.37" lengthAdjust="spacingAndGlyphs" style="font-size:14.1px">20</text>
<rect x="481.4" y="51.45" width="335.0" height="194.85000000000002" fill="none" stroke="#000" stroke-width="1.5"/>
<text x="627.62" y="293.50" textLength="7.51" lengthAdjust="spacingAndGlyphs" style="font-size:14.0px">x</text>
<text x="639.63" y="293.50" textLength="30.53" lengthAdjust="spacingAndGlyphs" style="font-size:14.0px">(µm)</text>
<text x="581.05" y="30.65" textLength="67.87" lengthAdjust="spacingAndGlyphs" font-weight="bold" stroke="#000" stroke-width="0.3" style="font-size:14.0px">Potential</text>
<text x="653.93" y="30.65" textLength="13.90" lengthAdjust="spacingAndGlyphs" font-weight="bold" stroke="#000" stroke-width="0.3" style="font-size:14.0px">in</text>
<text x="672.87" y="30.65" textLength="44.00" lengthAdjust="spacingAndGlyphs" font-weight="bold" stroke="#000" stroke-width="0.3" style="font-size:14.0px">liquid</text>
<g transform="rotate(-90 437.60 148.88)">
<text x="390.69" y="148.88" textLength="57.65" lengthAdjust="spacingAndGlyphs" style="font-size:14.0px">Potential</text>
<text x="452.84" y="148.88" textLength="31.51" lengthAdjust="spacingAndGlyphs" style="font-size:14.0px">(mV)</text>
</g>
</g>
<g id="p3">
<line x1="109.5" y1="351.45" x2="109.5" y2="546.3" stroke="#000" stroke-opacity="0.125" stroke-width="1"/>
<line x1="157.5" y1="351.45" x2="157.5" y2="546.3" stroke="#000" stroke-opacity="0.125" stroke-width="1"/>
<line x1="204.5" y1="351.45" x2="204.5" y2="546.3" stroke="#000" stroke-opacity="0.125" stroke-width="1"/>
<line x1="252.5" y1="351.45" x2="252.5" y2="546.3" stroke="#000" stroke-opacity="0.125" stroke-width="1"/>
<line x1="300.5" y1="351.45" x2="300.5" y2="546.3" stroke="#000" stroke-opacity="0.125" stroke-width="1"/>
<line x1="348.5" y1="351.45" x2="348.5" y2="546.3" stroke="#000" stroke-opacity="0.125" stroke-width="1"/>
<line x1="61.4" y1="513.5" x2="396.4" y2="513.5" stroke="#000" stroke-opacity="0.125" stroke-width="1"/>
<line x1="61.4" y1="481.5" x2="396.4" y2="481.5" stroke="#000" stroke-opacity="0.125" stroke-width="1"/>
<line x1="61.4" y1="448.5" x2="396.4" y2="448.5" stroke="#000" stroke-opacity="0.125" stroke-width="1"/>
<line x1="61.4" y1="416.5" x2="396.4" y2="416.5" stroke="#000" stroke-opacity="0.125" stroke-width="1"/>
<line x1="61.4" y1="383.5" x2="396.4" y2="383.5" stroke="#000" stroke-opacity="0.125" stroke-width="1"/>
<path d="M63.55 530.70 L385.39 530.70" fill="none" stroke="#0000ff" stroke-width="3.0" stroke-linejoin="round"/>
<path d="M64.75 431.25 L67.06 431.25 L69.36 431.24 L71.67 431.22 L73.98 431.21 L76.28 431.18 L78.59 431.15 L80.90 431.12 L83.20 431.08 L85.51 431.04 L87.82 430.99 L90.12 430.94 L92.43 430.88 L94.74 430.83 L97.04 430.77 L99.35 430.70 L101.66 430.64 L103.97 430.57 L106.27 430.50 L108.58 430.42 L110.89 430.35 L113.19 430.27 L115.50 430.19 L117.81 430.11 L120.11 430.02 L122.42 429.94 L124.73 429.85 L127.03 429.76 L129.34 429.66 L131.65 429.57 L133.95 429.47 L136.26 429.37 L138.57 429.26 L140.87 429.15 L143.18 429.04 L145.49 428.93 L147.79 428.81 L150.10 428.69 L152.41 428.56 L154.71 428.44 L157.02 428.31 L159.33 428.17 L161.63 428.03 L163.94 427.89 L166.25 427.74 L168.56 427.59 L170.86 427.43 L173.17 427.27 L175.48 427.10 L177.78 426.93 L180.09 426.75 L182.40 426.57 L184.70 426.37 L187.01 426.18 L189.32 425.97 L191.62 425.76 L193.93 425.55 L196.24 425.32 L198.54 425.09 L200.85 424.85 L203.16 424.60 L205.46 424.34 L207.77 424.08 L210.08 423.81 L212.38 423.53 L214.69 423.25 L217.00 422.96 L219.30 422.66 L221.61 422.36 L223.92 422.06 L226.22 421.76 L228.53 421.45 L230.84 421.14 L233.15 420.83 L235.45 420.52 L237.76 420.20 L240.07 419.87 L242.37 419.54 L244.68 419.20 L246.99 418.85 L249.29 418.48 L251.60 418.11 L253.91 417.72 L256.21 417.31 L258.52 416.89 L260.83 416.46 L263.13 416.01 L265.44 415.55 L267.75 415.07 L270.05 414.59 L272.36 414.09 L274.67 413.58 L276.97 413.05 L279.28 412.52 L281.59 411.98 L283.89 411.42 L286.20 410.86 L288.51 410.28 L290.81 409.70 L293.12 409.10 L295.43 408.50 L297.74 407.89 L300.04 407.27 L302.35 406.65 L304.66 406.01 L306.96 405.37 L309.27 404.71 L311.58 404.03 L313.88 403.34 L316.19 402.62 L318.50 401.88 L320.80 401.12 L323.11 400.33 L325.42 399.51 L327.72 398.66 L330.03 397.78 L332.34 396.87 L334.64 395.94 L336.95 394.97 L339.26 393.99 L341.56 392.98 L343.87 391.95 L346.18 390.90 L348.48 389.83 L350.79 388.74 L353.10 387.62 L355.40 386.48 L357.71 385.29 L360.02 384.05 L362.33 382.76 L364.63 381.41 L366.94 379.99 L369.25 378.49 L371.55 376.91 L373.86 375.23 L376.17 373.45 L378.47 371.57 L380.78 369.57 L383.09 367.45 L385.39 365.20" fill="none" stroke="#000" stroke-width="1.5" stroke-linejoin="round"/>
<path d="M64.75 424.80 L67.06 424.81 L69.36 424.83 L71.67 424.86 L73.98 424.90 L76.28 424.96 L78.59 425.03 L80.90 425.10 L83.20 425.19 L85.51 425.29 L87.82 425.39 L90.12 425.51 L92.43 425.63 L94.74 425.76 L97.04 425.89 L99.35 426.03 L101.66 426.18 L103.97 426.33 L106.27 426.49 L108.58 426.65 L110.89 426.82 L113.19 426.99 L115.50 427.16 L117.81 427.33 L120.11 427.51 L122.42 427.70 L124.73 427.89 L127.03 428.08 L129.34 428.27 L131.65 428.47 L133.95 428.68 L136.26 428.89 L138.57 429.10 L140.87 429.32 L143.18 429.54 L145.49 429.77 L147.79 430.01 L150.10 430.24 L152.41 430.49 L154.71 430.74 L157.02 430.99 L159.33 431.25 L161.63 431.51 L163.94 431.78 L166.25 432.06 L168.56 432.34 L170.86 432.62 L173.17 432.91 L175.48 433.21 L177.78 433.50 L180.09 433.81 L182.40 434.11 L184.70 434.42 L187.01 434.74 L189.32 435.06 L191.62 435.38 L193.93 435.70 L196.24 436.03 L198.54 436.36 L200.85 436.70 L203.16 437.03 L205.46 437.37 L207.77 437.72 L210.08 438.06 L212.38 438.41 L214.69 438.76 L217.00 439.12 L219.30 439.47 L221.61 439.83 L223.92 440.20 L226.22 440.57 L228.53 440.94 L230.84 441.32 L233.15 441.70 L235.45 442.08 L237.76 442.47 L240.07 442.86 L242.37 443.26 L244.68 443.66 L246.99 444.06 L249.29 444.47 L251.60 444.88 L253.91 445.29 L256.21 445.71 L258.52 446.14 L260.83 446.56 L263.13 446.99 L265.44 447.42 L267.75 447.85 L270.05 448.29 L272.36 448.72 L274.67 449.16 L276.97 449.59 L279.28 450.03 L281.59 450.47 L283.89 450.90 L286.20 451.33 L288.51 451.76 L290.81 452.19 L293.12 452.62 L295.43 453.05 L297.74 453.47 L300.04 453.88 L302.35 454.30 L304.66 454.71 L306.96 455.11 L309.27 455.52 L311.58 455.92 L313.88 456.31 L316.19 456.70 L318.50 457.09 L320.80 457.48 L323.11 457.87 L325.42 458.25 L327.72 458.63 L330.03 459.01 L332.34 459.39 L334.64 459.76 L336.95 460.13 L339.26 460.51 L341.56 460.88 L343.87 461.25 L346.18 461.62 L348.48 461.99 L350.79 462.36 L353.10 462.73 L355.40 463.10 L357.71 463.47 L360.02 463.84 L362.33 464.21 L364.63 464.58 L366.94 464.96 L369.25 465.33 L371.55 465.71 L373.86 466.08 L376.17 466.46 L378.47 466.84 L380.78 467.23 L383.09 467.61 L385.39 468.00" fill="none" stroke="#000" stroke-width="1.5" stroke-linejoin="round"/>
<path d="M64.75 477.70 L67.06 477.70 L69.36 477.69 L71.67 477.68 L73.98 477.67 L76.28 477.65 L78.59 477.63 L80.90 477.60 L83.20 477.58 L85.51 477.55 L87.82 477.51 L90.12 477.48 L92.43 477.44 L94.74 477.40 L97.04 477.36 L99.35 477.31 L101.66 477.26 L103.97 477.22 L106.27 477.17 L108.58 477.12 L110.89 477.06 L113.19 477.01 L115.50 476.96 L117.81 476.90 L120.11 476.84 L122.42 476.79 L124.73 476.73 L127.03 476.67 L129.34 476.61 L131.65 476.55 L133.95 476.49 L136.26 476.42 L138.57 476.36 L140.87 476.29 L143.18 476.22 L145.49 476.16 L147.79 476.09 L150.10 476.02 L152.41 475.95 L154.71 475.88 L157.02 475.80 L159.33 475.73 L161.63 475.65 L163.94 475.58 L166.25 475.50 L168.56 475.42 L170.86 475.34 L173.17 475.26 L175.48 475.18 L177.78 475.10 L180.09 475.01 L182.40 474.93 L184.70 474.84 L187.01 474.75 L189.32 474.66 L191.62 474.57 L193.93 474.47 L196.24 474.38 L198.54 474.28 L200.85 474.18 L203.16 474.08 L205.46 473.98 L207.77 473.87 L210.08 473.77 L212.38 473.66 L214.69 473.55 L217.00 473.43 L219.30 473.32 L221.61 473.20 L223.92 473.08 L226.22 472.95 L228.53 472.82 L230.84 472.69 L233.15 472.55 L235.45 472.41 L237.76 472.27 L240.07 472.12 L242.37 471.97 L244.68 471.82 L246.99 471.66 L249.29 471.50 L251.60 471.34 L253.91 471.17 L256.21 471.00 L258.52 470.83 L260.83 470.65 L263.13 470.47 L265.44 470.29 L267.75 470.10 L270.05 469.92 L272.36 469.72 L274.67 469.53 L276.97 469.33 L279.28 469.13 L281.59 468.92 L283.89 468.71 L286.20 468.50 L288.51 468.29 L290.81 468.07 L293.12 467.85 L295.43 467.62 L297.74 467.40 L300.04 467.16 L302.35 466.93 L304.66 466.69 L306.96 466.45 L309.27 466.21 L311.58 465.96 L313.88 465.71 L316.19 465.45 L318.50 465.19 L320.80 464.92 L323.11 464.65 L325.42 464.37 L327.72 464.09 L330.03 463.80 L332.34 463.50 L334.64 463.20 L336.95 462.90 L339.26 462.58 L341.56 462.26 L343.87 461.94 L346.18 461.60 L348.48 461.26 L350.79 460.91 L353.10 460.55 L355.40 460.19 L357.71 459.81 L360.02 459.43 L362.33 459.04 L364.63 458.64 L366.94 458.23 L369.25 457.81 L371.55 457.38 L373.86 456.94 L376.17 456.50 L378.47 456.04 L380.78 455.57 L383.09 455.09 L385.39 454.60" fill="none" stroke="#000" stroke-width="1.5" stroke-linejoin="round"/>
<path d="M64.75 516.25 L67.06 516.24 L69.36 516.20 L71.67 516.15 L73.98 516.08 L76.28 516.01 L78.59 515.93 L80.90 515.85 L83.20 515.77 L85.51 515.70 L87.82 515.64 L90.12 515.60 L92.43 515.58 L94.74 515.57 L97.04 515.59 L99.35 515.61 L101.66 515.65 L103.97 515.69 L106.27 515.74 L108.58 515.79 L110.89 515.84 L113.19 515.88 L115.50 515.93 L117.81 515.98 L120.11 516.03 L122.42 516.07 L124.73 516.12 L127.03 516.16 L129.34 516.21 L131.65 516.25 L133.95 516.29 L136.26 516.33 L138.57 516.38 L140.87 516.42 L143.18 516.46 L145.49 516.50 L147.79 516.54 L150.10 516.58 L152.41 516.62 L154.71 516.66 L157.02 516.70 L159.33 516.74 L161.63 516.78 L163.94 516.82 L166.25 516.86 L168.56 516.90 L170.86 516.94 L173.17 516.99 L175.48 517.03 L177.78 517.08 L180.09 517.13 L182.40 517.18 L184.70 517.24 L187.01 517.30 L189.32 517.36 L191.62 517.43 L193.93 517.50 L196.24 517.57 L198.54 517.65 L200.85 517.74 L203.16 517.83 L205.46 517.92 L207.77 518.02 L210.08 518.12 L212.38 518.23 L214.69 518.34 L217.00 518.45 L219.30 518.56 L221.61 518.67 L223.92 518.78 L226.22 518.88 L228.53 518.98 L230.84 519.08 L233.15 519.17 L235.45 519.25 L237.76 519.33 L240.07 519.41 L242.37 519.49 L244.68 519.56 L246.99 519.63 L249.29 519.70 L251.60 519.76 L253.91 519.83 L256.21 519.90 L258.52 519.97 L260.83 520.03 L263.13 520.10 L265.44 520.17 L267.75 520.24 L270.05 520.30 L272.36 520.37 L274.67 520.44 L276.97 520.51 L279.28 520.58 L281.59 520.65 L283.89 520.72 L286.20 520.79 L288.51 520.86 L290.81 520.93 L293.12 521.01 L295.43 521.08 L297.74 521.15 L300.04 521.23 L302.35 521.30 L304.66 521.38 L306.96 521.46 L309.27 521.54 L311.58 521.62 L313.88 521.70 L316.19 521.78 L318.50 521.86 L320.80 521.95 L323.11 522.03 L325.42 522.12 L327.72 522.21 L330.03 522.30 L332.34 522.39 L334.64 522.49 L336.95 522.58 L339.26 522.68 L341.56 522.78 L343.87 522.88 L346.18 522.99 L348.48 523.10 L350.79 523.21 L353.10 523.32 L355.40 523.43 L357.71 523.55 L360.02 523.67 L362.33 523.80 L364.63 523.92 L366.94 524.05 L369.25 524.18 L371.55 524.32 L373.86 524.46 L376.17 524.60 L378.47 524.74 L380.78 524.89 L383.09 525.04 L385.39 525.20" fill="none" stroke="#000" stroke-width="1.5" stroke-linejoin="round"/>
<path d="M64.75 529.50 L67.06 529.50 L69.36 529.50 L71.67 529.51 L73.98 529.51 L76.28 529.52 L78.59 529.52 L80.90 529.53 L83.20 529.54 L85.51 529.55 L87.82 529.56 L90.12 529.57 L92.43 529.58 L94.74 529.60 L97.04 529.61 L99.35 529.63 L101.66 529.64 L103.97 529.66 L106.27 529.68 L108.58 529.69 L110.89 529.71 L113.19 529.73 L115.50 529.75 L117.81 529.77 L120.11 529.80 L122.42 529.82 L124.73 529.84 L127.03 529.86 L129.34 529.89 L131.65 529.91 L133.95 529.94 L136.26 529.96 L138.57 529.99 L140.87 530.01 L143.18 530.04 L145.49 530.06 L147.79 530.09 L150.10 530.12 L152.41 530.14 L154.71 530.17 L157.02 530.20 L159.33 530.23 L161.63 530.25 L163.94 530.28 L166.25 530.31 L168.56 530.34 L170.86 530.37 L173.17 530.40 L175.48 530.43 L177.78 530.46 L180.09 530.49 L182.40 530.52 L184.70 530.56 L187.01 530.59 L189.32 530.63 L191.62 530.66 L193.93 530.70 L196.24 530.74 L198.54 530.78 L200.85 530.82 L203.16 530.86 L205.46 530.91 L207.77 530.96 L210.08 531.00 L212.38 531.05 L214.69 531.10 L217.00 531.15 L219.30 531.21 L221.61 531.26 L223.92 531.31 L226.22 531.37 L228.53 531.42 L230.84 531.48 L233.15 531.53 L235.45 531.59 L237.76 531.64 L240.07 531.70 L242.37 531.76 L244.68 531.81 L246.99 531.86 L249.29 531.92 L251.60 531.97 L253.91 532.02 L256.21 532.08 L258.52 532.13 L260.83 532.18 L263.13 532.23 L265.44 532.28 L267.75 532.33 L270.05 532.38 L272.36 532.43 L274.67 532.48 L276.97 532.53 L279.28 532.58 L281.59 532.63 L283.89 532.68 L286.20 532.73 L288.51 532.79 L290.81 532.84 L293.12 532.90 L295.43 532.96 L297.74 533.02 L300.04 533.08 L302.35 533.15 L304.66 533.21 L306.96 533.28 L309.27 533.35 L311.58 533.42 L313.88 533.49 L316.19 533.57 L318.50 533.64 L320.80 533.72 L323.11 533.79 L325.42 533.87 L327.72 533.95 L330.03 534.03 L332.34 534.11 L334.64 534.20 L336.95 534.28 L339.26 534.36 L341.56 534.45 L343.87 534.53 L346.18 534.61 L348.48 534.70 L350.79 534.78 L353.10 534.87 L355.40 534.95 L357.71 535.04 L360.02 535.12 L362.33 535.20 L364.63 535.29 L366.94 535.37 L369.25 535.45 L371.55 535.53 L373.86 535.61 L376.17 535.69 L378.47 535.77 L380.78 535.85 L383.09 535.92 L385.39 536.00" fill="none" stroke="#ff0000" stroke-width="3.3" stroke-linejoin="round"/>
<line x1="61.5" y1="546.3" x2="61.5" y2="541.3" stroke="#000" stroke-width="1.5"/>
<line x1="61.5" y1="351.45" x2="61.5" y2="356.45" stroke="#000" stroke-width="1.5"/>
<text x="59.77" y="567.70" textLength="7.25" lengthAdjust="spacingAndGlyphs" style="font-size:14.1px">0</text>
<line x1="109.5" y1="546.3" x2="109.5" y2="541.3" stroke="#000" stroke-width="1.5"/>
<line x1="109.5" y1="351.45" x2="109.5" y2="356.45" stroke="#000" stroke-width="1.5"/>
<text x="107.75" y="567.70" textLength="6.94" lengthAdjust="spacingAndGlyphs" style="font-size:14.1px">2</text>
<line x1="157.5" y1="546.3" x2="157.5" y2="541.3" stroke="#000" stroke-width="1.5"/>
<line x1="157.5" y1="351.45" x2="157.5" y2="356.45" stroke="#000" stroke-width="1.5"/>
<text x="155.75" y="567.70" textLength="7.28" lengthAdjust="spacingAndGlyphs" style="font-size:14.1px">4</text>
<line x1="204.5" y1="546.3" x2="204.5" y2="541.3" stroke="#000" stroke-width="1.5"/>
<line x1="204.5" y1="351.45" x2="204.5" y2="356.45" stroke="#000" stroke-width="1.5"/>
<text x="202.65" y="567.70" textLength="7.51" lengthAdjust="spacingAndGlyphs" style="font-size:14.1px">6</text>
<line x1="252.5" y1="546.3" x2="252.5" y2="541.3" stroke="#000" stroke-width="1.5"/>
<line x1="252.5" y1="351.45" x2="252.5" y2="356.45" stroke="#000" stroke-width="1.5"/>
<text x="250.73" y="567.70" textLength="7.33" lengthAdjust="spacingAndGlyphs" style="font-size:14.1px">8</text>
<line x1="300.5" y1="546.3" x2="300.5" y2="541.3" stroke="#000" stroke-width="1.5"/>
<line x1="300.5" y1="351.45" x2="300.5" y2="356.45" stroke="#000" stroke-width="1.5"/>
<text x="294.82" y="567.70" textLength="15.23" lengthAdjust="spacingAndGlyphs" style="font-size:14.1px">10</text>
<line x1="348.5" y1="546.3" x2="348.5" y2="541.3" stroke="#000" stroke-width="1.5"/>
<line x1="348.5" y1="351.45" x2="348.5" y2="356.45" stroke="#000" stroke-width="1.5"/>
<text x="342.84" y="567.70" textLength="14.89" lengthAdjust="spacingAndGlyphs" style="font-size:14.1px">12</text>
<line x1="396.5" y1="546.3" x2="396.5" y2="541.3" stroke="#000" stroke-width="1.5"/>
<line x1="396.5" y1="351.45" x2="396.5" y2="356.45" stroke="#000" stroke-width="1.5"/>
<text x="390.82" y="567.70" textLength="15.23" lengthAdjust="spacingAndGlyphs" style="font-size:14.1px">14</text>
<line x1="61.4" y1="546.5" x2="66.4" y2="546.5" stroke="#000" stroke-width="1.5"/>
<line x1="396.4" y1="546.5" x2="391.4" y2="546.5" stroke="#000" stroke-width="1.5"/>
<text x="45.67" y="550.90" textLength="7.25" lengthAdjust="spacingAndGlyphs" style="font-size:14.1px">0</text>
<line x1="61.4" y1="513.5" x2="66.4" y2="513.5" stroke="#000" stroke-width="1.5"/>
<line x1="396.4" y1="513.5" x2="391.4" y2="513.5" stroke="#000" stroke-width="1.5"/>
<text x="45.65" y="518.90" textLength="6.94" lengthAdjust="spacingAndGlyphs" style="font-size:14.1px">2</text>
<line x1="61.4" y1="481.5" x2="66.4" y2="481.5" stroke="#000" stroke-width="1.5"/>
<line x1="396.4" y1="481.5" x2="391.4" y2="481.5" stroke="#000" stroke-width="1.5"/>
<text x="45.65" y="485.90" textLength="7.28" lengthAdjust="spacingAndGlyphs" style="font-size:14.1px">4</text>
<line x1="61.4" y1="448.5" x2="66.4" y2="448.5" stroke="#000" stroke-width="1.5"/>
<line x1="396.4" y1="448.5" x2="391.4" y2="448.5" stroke="#000" stroke-width="1.5"/>
<text x="45.55" y="453.90" textLength="7.51" lengthAdjust="spacingAndGlyphs" style="font-size:14.1px">6</text>
<line x1="61.4" y1="416.5" x2="66.4" y2="416.5" stroke="#000" stroke-width="1.5"/>
<line x1="396.4" y1="416.5" x2="391.4" y2="416.5" stroke="#000" stroke-width="1.5"/>
<text x="45.63" y="420.90" textLength="7.33" lengthAdjust="spacingAndGlyphs" style="font-size:14.1px">8</text>
<line x1="61.4" y1="383.5" x2="66.4" y2="383.5" stroke="#000" stroke-width="1.5"/>
<line x1="396.4" y1="383.5" x2="391.4" y2="383.5" stroke="#000" stroke-width="1.5"/>
<text x="37.72" y="388.90" textLength="15.23" lengthAdjust="spacingAndGlyphs" style="font-size:14.1px">10</text>
<line x1="61.4" y1="351.5" x2="66.4" y2="351.5" stroke="#000" stroke-width="1.5"/>
<line x1="396.4" y1="351.5" x2="391.4" y2="351.5" stroke="#000" stroke-width="1.5"/>
<text x="37.74" y="355.90" textLength="14.89" lengthAdjust="spacingAndGlyphs" style="font-size:14.1px">12</text>
<rect x="61.4" y="351.45" width="335.0" height="194.84999999999997" fill="none" stroke="#000" stroke-width="1.5"/>
<text x="209.10" y="593.50" textLength="5.05" lengthAdjust="spacingAndGlyphs" style="font-size:14.0px">r</text>
<text x="218.13" y="593.50" textLength="30.53" lengthAdjust="spacingAndGlyphs" style="font-size:14.0px">(µm)</text>
<text x="56.93" y="330.65" textLength="104.89" lengthAdjust="spacingAndGlyphs" font-weight="bold" stroke="#000" stroke-width="0.3" style="font-size:14.0px">Concentration</text>
<text x="166.93" y="330.65" textLength="13.90" lengthAdjust="spacingAndGlyphs" font-weight="bold" stroke="#000" stroke-width="0.3" style="font-size:14.0px">in</text>
<text x="186.04" y="330.65" textLength="36.78" lengthAdjust="spacingAndGlyphs" font-weight="bold" stroke="#000" stroke-width="0.3" style="font-size:14.0px">solid</text>
<text x="227.93" y="330.65" textLength="13.90" lengthAdjust="spacingAndGlyphs" font-weight="bold" stroke="#000" stroke-width="0.3" style="font-size:14.0px">in</text>
<text x="246.88" y="330.65" textLength="23.92" lengthAdjust="spacingAndGlyphs" font-weight="bold" stroke="#000" stroke-width="0.3" style="font-size:14.0px">the</text>
<text x="275.92" y="330.65" textLength="52.89" lengthAdjust="spacingAndGlyphs" font-weight="bold" stroke="#000" stroke-width="0.3" style="font-size:14.0px">middle</text>
<text x="333.85" y="330.65" textLength="15.14" lengthAdjust="spacingAndGlyphs" font-weight="bold" stroke="#000" stroke-width="0.3" style="font-size:14.0px">of</text>
<text x="353.59" y="330.65" textLength="47.19" lengthAdjust="spacingAndGlyphs" font-weight="bold" stroke="#000" stroke-width="0.3" style="font-size:14.0px">Anode</text>
<g transform="rotate(-90 17.60 449.18)">
<text x="-63.39" y="449.18" textLength="90.81" lengthAdjust="spacingAndGlyphs" style="font-size:14.0px">Concentration</text>
<text x="31.81" y="449.18" textLength="54.66" lengthAdjust="spacingAndGlyphs" style="font-size:14.0px">(mol/dm</text>
<text x="86.98" y="443.48" textLength="6.26" lengthAdjust="spacingAndGlyphs" style="font-size:11.2px">3</text>
<text x="94.61" y="449.18" textLength="3.50" lengthAdjust="spacingAndGlyphs" style="font-size:14.0px">)</text>
</g>
</g>
<g id="p4">
<line x1="514.5" y1="351.45" x2="514.5" y2="546.3" stroke="#000" stroke-opacity="0.125" stroke-width="1"/>
<line x1="548.5" y1="351.45" x2="548.5" y2="546.3" stroke="#000" stroke-opacity="0.125" stroke-width="1"/>
<line x1="581.5" y1="351.45" x2="581.5" y2="546.3" stroke="#000" stroke-opacity="0.125" stroke-width="1"/>
<line x1="615.5" y1="351.45" x2="615.5" y2="546.3" stroke="#000" stroke-opacity="0.125" stroke-width="1"/>
<line x1="648.5" y1="351.45" x2="648.5" y2="546.3" stroke="#000" stroke-opacity="0.125" stroke-width="1"/>
<line x1="682.5" y1="351.45" x2="682.5" y2="546.3" stroke="#000" stroke-opacity="0.125" stroke-width="1"/>
<line x1="715.5" y1="351.45" x2="715.5" y2="546.3" stroke="#000" stroke-opacity="0.125" stroke-width="1"/>
<line x1="749.5" y1="351.45" x2="749.5" y2="546.3" stroke="#000" stroke-opacity="0.125" stroke-width="1"/>
<line x1="782.5" y1="351.45" x2="782.5" y2="546.3" stroke="#000" stroke-opacity="0.125" stroke-width="1"/>
<line x1="481.4" y1="518.5" x2="816.4" y2="518.5" stroke="#000" stroke-opacity="0.125" stroke-width="1"/>
<line x1="481.4" y1="490.5" x2="816.4" y2="490.5" stroke="#000" stroke-opacity="0.125" stroke-width="1"/>
<line x1="481.4" y1="462.5" x2="816.4" y2="462.5" stroke="#000" stroke-opacity="0.125" stroke-width="1"/>
<line x1="481.4" y1="434.5" x2="816.4" y2="434.5" stroke="#000" stroke-opacity="0.125" stroke-width="1"/>
<line x1="481.4" y1="407.5" x2="816.4" y2="407.5" stroke="#000" stroke-opacity="0.125" stroke-width="1"/>
<line x1="481.4" y1="379.5" x2="816.4" y2="379.5" stroke="#000" stroke-opacity="0.125" stroke-width="1"/>
<path d="M482.07 381.60 L813.72 381.60" fill="none" stroke="#0000ff" stroke-width="3.0" stroke-linejoin="round"/>
<path d="M484.08 396.40 L486.84 396.40 L489.61 396.40 L492.37 396.40 L495.14 396.40 L497.90 396.40 L500.67 396.40 L503.43 396.40 L506.20 396.40 L508.96 396.40 L511.72 396.40 L512.89 396.40 L514.49 396.52 L517.25 396.97 L518.92 397.10 L520.02 397.10 L522.78 397.09 L525.55 397.09 L528.31 397.07 L531.08 397.05 L533.84 397.03 L536.60 397.01 L539.37 396.99 L542.13 396.96 L544.90 396.93 L547.66 396.91 L548.40 396.90 L550.43 396.88 L553.19 396.85 L555.96 396.81 L558.72 396.77 L561.48 396.73 L564.25 396.68 L567.01 396.63 L569.78 396.58 L572.54 396.53 L575.31 396.48 L578.07 396.42 L580.84 396.37 L581.90 396.35 L583.60 396.32 L586.36 396.26 L589.13 396.20 L591.89 396.14 L594.66 396.07 L597.42 396.01 L600.19 395.94 L602.95 395.88 L605.72 395.81 L608.48 395.75 L611.24 395.69 L614.01 395.63 L615.40 395.60 L616.77 395.57 L619.54 395.52 L622.30 395.47 L625.07 395.43 L627.83 395.38 L630.60 395.34 L633.36 395.29 L636.12 395.24 L638.89 395.20 L641.65 395.15 L644.42 395.09 L647.18 395.04 L648.90 395.00 L649.95 394.98 L652.71 394.91 L655.48 394.84 L658.24 394.76 L661.01 394.68 L663.77 394.60 L666.53 394.51 L669.30 394.42 L672.06 394.33 L674.83 394.24 L677.59 394.15 L680.36 394.06 L682.40 394.00 L683.12 393.98 L685.89 393.89 L688.65 393.80 L691.41 393.71 L694.18 393.62 L696.94 393.53 L699.71 393.44 L702.47 393.35 L705.24 393.26 L708.00 393.17 L710.77 393.07 L713.53 392.98 L715.90 392.90 L716.29 392.89 L719.06 392.79 L721.82 392.70 L724.59 392.60 L727.35 392.51 L730.12 392.41 L732.88 392.32 L735.65 392.22 L738.41 392.12 L741.17 392.02 L743.94 391.91 L746.70 391.81 L749.40 391.70 L749.47 391.70 L752.23 391.58 L755.00 391.47 L757.76 391.34 L760.53 391.22 L763.29 391.09 L766.05 390.96 L768.82 390.83 L771.58 390.71 L774.35 390.58 L777.11 390.45 L779.88 390.33 L782.64 390.21 L782.90 390.20 L785.41 390.09 L788.17 389.98 L790.93 389.87 L793.70 389.75 L796.46 389.64 L799.23 389.53 L801.99 389.42 L804.76 389.32 L807.52 389.21 L810.29 389.10 L813.05 389.00" fill="none" stroke="#000" stroke-width="1.5" stroke-linejoin="round"/>
<path d="M484.08 446.50 L486.84 446.50 L489.61 446.50 L492.37 446.50 L495.14 446.50 L497.90 446.50 L500.67 446.50 L503.43 446.50 L506.20 446.50 L508.96 446.50 L511.72 446.50 L514.49 446.50 L514.90 446.50 L517.25 446.50 L520.02 446.51 L522.78 446.52 L525.55 446.53 L528.31 446.55 L531.08 446.57 L533.84 446.59 L536.60 446.61 L539.37 446.64 L542.13 446.66 L544.90 446.68 L547.66 446.70 L548.40 446.70 L550.43 446.71 L553.19 446.73 L555.96 446.74 L558.72 446.76 L561.48 446.77 L564.25 446.79 L567.01 446.80 L569.78 446.82 L572.54 446.83 L575.31 446.85 L578.07 446.87 L580.84 446.89 L581.90 446.90 L583.60 446.91 L586.36 446.94 L589.13 446.97 L591.89 446.99 L594.66 447.03 L597.42 447.06 L600.19 447.09 L602.95 447.13 L605.72 447.16 L608.48 447.20 L611.24 447.24 L614.01 447.28 L615.40 447.30 L616.77 447.32 L619.54 447.36 L622.30 447.41 L625.07 447.46 L627.83 447.51 L630.60 447.56 L633.36 447.61 L636.12 447.66 L638.89 447.71 L641.65 447.77 L644.42 447.82 L647.18 447.87 L648.90 447.90 L649.95 447.92 L652.71 447.97 L655.48 448.01 L658.24 448.06 L661.01 448.11 L663.77 448.15 L666.53 448.20 L669.30 448.25 L672.06 448.30 L674.83 448.35 L677.59 448.40 L680.36 448.46 L682.40 448.50 L683.12 448.52 L685.89 448.58 L688.65 448.65 L691.41 448.72 L694.18 448.79 L696.94 448.87 L699.71 448.95 L702.47 449.03 L705.24 449.11 L708.00 449.19 L710.77 449.26 L713.53 449.34 L715.90 449.40 L716.29 449.41 L719.06 449.48 L721.82 449.54 L724.59 449.61 L727.35 449.67 L730.12 449.73 L732.88 449.80 L735.65 449.86 L738.41 449.92 L741.17 449.99 L743.94 450.06 L746.70 450.13 L749.40 450.20 L749.47 450.20 L752.23 450.28 L755.00 450.36 L757.76 450.44 L760.53 450.53 L763.29 450.62 L766.05 450.71 L768.82 450.80 L771.58 450.89 L774.35 450.98 L777.11 451.07 L779.88 451.16 L782.64 451.24 L782.90 451.25 L785.41 451.32 L788.17 451.40 L790.93 451.49 L793.70 451.56 L796.46 451.64 L799.23 451.72 L801.99 451.80 L804.76 451.88 L807.52 451.95 L810.29 452.03 L813.05 452.10" fill="none" stroke="#000" stroke-width="1.5" stroke-linejoin="round"/>
<path d="M484.08 463.30 L486.84 463.30 L489.61 463.30 L492.37 463.30 L495.14 463.30 L497.90 463.30 L500.67 463.30 L503.43 463.30 L506.20 463.30 L508.96 463.30 L511.72 463.30 L514.49 463.30 L514.90 463.30 L517.25 463.30 L520.02 463.29 L522.78 463.28 L525.55 463.27 L528.31 463.26 L531.08 463.24 L533.84 463.22 L536.60 463.20 L539.37 463.17 L542.13 463.15 L544.90 463.13 L547.66 463.11 L548.40 463.10 L550.43 463.08 L553.19 463.06 L555.96 463.03 L558.72 463.00 L561.48 462.97 L564.25 462.94 L567.01 462.90 L569.78 462.87 L572.54 462.83 L575.31 462.79 L578.07 462.75 L580.84 462.72 L581.90 462.70 L583.60 462.67 L586.36 462.63 L589.13 462.58 L591.89 462.54 L594.66 462.48 L597.42 462.43 L600.19 462.38 L602.95 462.33 L605.72 462.27 L608.48 462.22 L611.24 462.17 L614.01 462.12 L615.40 462.10 L616.77 462.08 L619.54 462.03 L622.30 461.99 L625.07 461.94 L627.83 461.90 L630.60 461.86 L633.36 461.81 L636.12 461.77 L638.89 461.73 L641.65 461.69 L644.42 461.66 L647.18 461.62 L648.90 461.60 L649.95 461.59 L652.71 461.56 L655.48 461.53 L658.24 461.50 L661.01 461.48 L663.77 461.45 L666.53 461.43 L669.30 461.40 L672.06 461.38 L674.83 461.35 L677.59 461.31 L680.36 461.28 L682.40 461.25 L683.12 461.24 L685.89 461.19 L688.65 461.13 L691.41 461.07 L694.18 461.00 L696.94 460.93 L699.71 460.85 L702.47 460.77 L705.24 460.69 L708.00 460.61 L710.77 460.53 L713.53 460.46 L715.90 460.40 L716.29 460.39 L719.06 460.32 L721.82 460.26 L724.59 460.19 L727.35 460.12 L730.12 460.06 L732.88 459.99 L735.65 459.93 L738.41 459.86 L741.17 459.80 L743.94 459.73 L746.70 459.67 L749.40 459.60 L749.47 459.60 L752.23 459.53 L755.00 459.46 L757.76 459.39 L760.53 459.32 L763.29 459.26 L766.05 459.19 L768.82 459.12 L771.58 459.05 L774.35 458.97 L777.11 458.90 L779.88 458.83 L782.64 458.76 L782.90 458.75 L785.41 458.68 L788.17 458.61 L790.93 458.53 L793.70 458.46 L796.46 458.38 L799.23 458.30 L801.99 458.22 L804.76 458.14 L807.52 458.06 L810.29 457.98 L813.05 457.90" fill="none" stroke="#000" stroke-width="1.5" stroke-linejoin="round"/>
<path d="M484.08 516.00 L486.84 516.00 L489.61 516.00 L492.37 516.00 L495.14 516.00 L497.90 516.00 L500.67 516.00 L503.43 516.00 L506.20 516.00 L508.96 516.00 L511.72 516.00 L514.49 516.00 L514.90 516.00 L517.25 516.01 L520.02 516.02 L522.78 516.05 L525.55 516.09 L528.31 516.13 L531.08 516.18 L533.84 516.24 L536.60 516.29 L539.37 516.35 L542.13 516.40 L544.90 516.45 L547.66 516.49 L548.40 516.50 L550.43 516.53 L553.19 516.56 L555.96 516.59 L558.72 516.62 L561.48 516.66 L564.25 516.69 L567.01 516.72 L569.78 516.75 L572.54 516.78 L575.31 516.81 L578.07 516.85 L580.84 516.88 L581.90 516.90 L583.60 516.92 L586.36 516.97 L589.13 517.01 L591.89 517.06 L594.66 517.11 L597.42 517.16 L600.19 517.21 L602.95 517.27 L605.72 517.32 L608.48 517.37 L611.24 517.42 L614.01 517.47 L615.40 517.50 L616.77 517.52 L619.54 517.57 L622.30 517.62 L625.07 517.66 L627.83 517.71 L630.60 517.75 L633.36 517.80 L636.12 517.85 L638.89 517.89 L641.65 517.95 L644.42 518.00 L647.18 518.06 L648.90 518.10 L649.95 518.13 L652.71 518.20 L655.48 518.28 L658.24 518.37 L661.01 518.46 L663.77 518.56 L666.53 518.66 L669.30 518.76 L672.06 518.86 L674.83 518.96 L677.59 519.05 L680.36 519.14 L682.40 519.20 L683.12 519.22 L685.89 519.29 L688.65 519.36 L691.41 519.42 L694.18 519.49 L696.94 519.55 L699.71 519.61 L702.47 519.67 L705.24 519.73 L708.00 519.79 L710.77 519.86 L713.53 519.93 L715.90 520.00 L716.29 520.01 L719.06 520.10 L721.82 520.19 L724.59 520.29 L727.35 520.39 L730.12 520.49 L732.88 520.60 L735.65 520.71 L738.41 520.82 L741.17 520.93 L743.94 521.04 L746.70 521.15 L749.40 521.25 L749.47 521.25 L752.23 521.35 L755.00 521.45 L757.76 521.55 L760.53 521.65 L763.29 521.75 L766.05 521.85 L768.82 521.95 L771.58 522.05 L774.35 522.16 L777.11 522.26 L779.88 522.37 L782.64 522.49 L782.90 522.50 L785.41 522.61 L788.17 522.73 L790.93 522.86 L793.70 522.99 L796.46 523.13 L799.23 523.26 L801.99 523.41 L804.76 523.55 L807.52 523.70 L810.29 523.85 L813.05 524.00" fill="none" stroke="#000" stroke-width="1.5" stroke-linejoin="round"/>
<path d="M481.40 381.40 L484.19 381.40 L486.97 381.40 L489.76 381.40 L492.55 381.40 L495.33 381.40 L498.12 381.40 L500.91 381.40 L503.70 381.40 L506.48 381.40 L509.27 381.40 L512.06 381.40 L514.84 381.40 L514.90 381.40 L517.63 381.43 L520.42 381.50 L523.20 381.60 L525.99 381.69 L528.78 381.77 L531.57 381.80 L531.65 381.80 L534.35 381.78 L537.14 381.74 L539.93 381.67 L542.71 381.60 L545.50 381.54 L548.29 381.50 L548.40 381.50 L551.07 381.48 L553.86 381.46 L556.65 381.44 L559.44 381.42 L562.22 381.41 L565.01 381.40 L567.80 381.38 L570.58 381.37 L573.37 381.36 L576.16 381.34 L578.94 381.32 L581.73 381.30 L581.90 381.30 L584.52 381.28 L587.31 381.25 L590.09 381.21 L592.88 381.18 L595.67 381.14 L598.45 381.09 L601.24 381.05 L604.03 381.00 L606.81 380.95 L609.60 380.91 L612.39 380.86 L615.17 380.80 L615.40 380.80 L617.96 380.75 L620.75 380.70 L623.54 380.64 L626.32 380.58 L629.11 380.51 L631.90 380.45 L634.68 380.38 L637.47 380.31 L640.26 380.24 L643.04 380.16 L645.83 380.09 L648.62 380.01 L648.90 380.00 L651.41 379.93 L654.19 379.84 L656.98 379.74 L659.77 379.65 L662.55 379.55 L665.34 379.44 L668.13 379.34 L670.91 379.23 L673.70 379.12 L676.49 379.02 L679.28 378.91 L682.06 378.81 L682.40 378.80 L684.85 378.71 L687.64 378.61 L690.42 378.51 L693.21 378.41 L696.00 378.31 L698.78 378.21 L701.57 378.11 L704.36 378.01 L707.14 377.91 L709.93 377.81 L712.72 377.71 L715.51 377.61 L715.90 377.60 L718.29 377.52 L721.08 377.42 L723.87 377.33 L726.65 377.24 L729.44 377.15 L732.23 377.06 L735.01 376.97 L737.80 376.88 L740.59 376.79 L743.38 376.70 L746.16 376.61 L748.95 376.51 L749.40 376.50 L751.74 376.42 L754.52 376.33 L757.31 376.24 L760.10 376.15 L762.88 376.06 L765.67 375.97 L768.46 375.88 L771.25 375.79 L774.03 375.70 L776.82 375.61 L779.61 375.51 L782.39 375.42 L782.90 375.40 L785.18 375.32 L787.97 375.22 L790.75 375.12 L793.54 375.02 L796.33 374.92 L799.12 374.82 L801.90 374.72 L804.69 374.62 L807.48 374.51 L810.26 374.41 L813.05 374.30" fill="none" stroke="#ff0000" stroke-width="3.3" stroke-linejoin="round"/>
<line x1="481.5" y1="546.3" x2="481.5" y2="541.3" stroke="#000" stroke-width="1.5"/>
<line x1="481.5" y1="351.45" x2="481.5" y2="356.45" stroke="#000" stroke-width="1.5"/>
<text x="479.77" y="567.70" textLength="7.25" lengthAdjust="spacingAndGlyphs" style="font-size:14.1px">0</text>
<line x1="514.5" y1="546.3" x2="514.5" y2="541.3" stroke="#000" stroke-width="1.5"/>
<line x1="514.5" y1="351.45" x2="514.5" y2="356.45" stroke="#000" stroke-width="1.5"/>
<text x="498.73" y="567.70" textLength="35.09" lengthAdjust="spacingAndGlyphs" style="font-size:14.1px">0.005</text>
<line x1="548.5" y1="546.3" x2="548.5" y2="541.3" stroke="#000" stroke-width="1.5"/>
<line x1="548.5" y1="351.45" x2="548.5" y2="356.45" stroke="#000" stroke-width="1.5"/>
<text x="536.73" y="567.70" textLength="27.12" lengthAdjust="spacingAndGlyphs" style="font-size:14.1px">0.01</text>
<line x1="581.5" y1="546.3" x2="581.5" y2="541.3" stroke="#000" stroke-width="1.5"/>
<line x1="581.5" y1="351.45" x2="581.5" y2="356.45" stroke="#000" stroke-width="1.5"/>
<text x="565.73" y="567.70" textLength="35.09" lengthAdjust="spacingAndGlyphs" style="font-size:14.1px">0.015</text>
<line x1="615.5" y1="546.3" x2="615.5" y2="541.3" stroke="#000" stroke-width="1.5"/>
<line x1="615.5" y1="351.45" x2="615.5" y2="356.45" stroke="#000" stroke-width="1.5"/>
<text x="603.74" y="567.70" textLength="27.03" lengthAdjust="spacingAndGlyphs" style="font-size:14.1px">0.02</text>
<line x1="648.5" y1="546.3" x2="648.5" y2="541.3" stroke="#000" stroke-width="1.5"/>
<line x1="648.5" y1="351.45" x2="648.5" y2="356.45" stroke="#000" stroke-width="1.5"/>
<text x="632.73" y="567.70" textLength="35.09" lengthAdjust="spacingAndGlyphs" style="font-size:14.1px">0.025</text>
<line x1="682.5" y1="546.3" x2="682.5" y2="541.3" stroke="#000" stroke-width="1.5"/>
<line x1="682.5" y1="351.45" x2="682.5" y2="356.45" stroke="#000" stroke-width="1.5"/>
<text x="670.73" y="567.70" textLength="27.21" lengthAdjust="spacingAndGlyphs" style="font-size:14.1px">0.03</text>
<line x1="715.5" y1="546.3" x2="715.5" y2="541.3" stroke="#000" stroke-width="1.5"/>
<line x1="715.5" y1="351.45" x2="715.5" y2="356.45" stroke="#000" stroke-width="1.5"/>
<text x="699.73" y="567.70" textLength="35.09" lengthAdjust="spacingAndGlyphs" style="font-size:14.1px">0.035</text>
<line x1="749.5" y1="546.3" x2="749.5" y2="541.3" stroke="#000" stroke-width="1.5"/>
<line x1="749.5" y1="351.45" x2="749.5" y2="356.45" stroke="#000" stroke-width="1.5"/>
<text x="737.73" y="567.70" textLength="27.33" lengthAdjust="spacingAndGlyphs" style="font-size:14.1px">0.04</text>
<line x1="782.5" y1="546.3" x2="782.5" y2="541.3" stroke="#000" stroke-width="1.5"/>
<line x1="782.5" y1="351.45" x2="782.5" y2="356.45" stroke="#000" stroke-width="1.5"/>
<text x="766.73" y="567.70" textLength="35.09" lengthAdjust="spacingAndGlyphs" style="font-size:14.1px">0.045</text>
<line x1="816.5" y1="546.3" x2="816.5" y2="541.3" stroke="#000" stroke-width="1.5"/>
<line x1="816.5" y1="351.45" x2="816.5" y2="356.45" stroke="#000" stroke-width="1.5"/>
<text x="804.74" y="567.70" textLength="27.08" lengthAdjust="spacingAndGlyphs" style="font-size:14.1px">0.05</text>
<line x1="481.4" y1="546.5" x2="486.4" y2="546.5" stroke="#000" stroke-width="1.5"/>
<line x1="816.4" y1="546.5" x2="811.4" y2="546.5" stroke="#000" stroke-width="1.5"/>
<text x="457.72" y="550.90" textLength="15.23" lengthAdjust="spacingAndGlyphs" style="font-size:14.1px">10</text>
<line x1="481.4" y1="518.5" x2="486.4" y2="518.5" stroke="#000" stroke-width="1.5"/>
<line x1="816.4" y1="518.5" x2="811.4" y2="518.5" stroke="#000" stroke-width="1.5"/>
<text x="457.74" y="522.90" textLength="14.89" lengthAdjust="spacingAndGlyphs" style="font-size:14.1px">12</text>
<line x1="481.4" y1="490.5" x2="486.4" y2="490.5" stroke="#000" stroke-width="1.5"/>
<line x1="816.4" y1="490.5" x2="811.4" y2="490.5" stroke="#000" stroke-width="1.5"/>
<text x="457.72" y="495.90" textLength="15.23" lengthAdjust="spacingAndGlyphs" style="font-size:14.1px">14</text>
<line x1="481.4" y1="462.5" x2="486.4" y2="462.5" stroke="#000" stroke-width="1.5"/>
<line x1="816.4" y1="462.5" x2="811.4" y2="462.5" stroke="#000" stroke-width="1.5"/>
<text x="457.71" y="467.90" textLength="15.35" lengthAdjust="spacingAndGlyphs" style="font-size:14.1px">16</text>
<line x1="481.4" y1="434.5" x2="486.4" y2="434.5" stroke="#000" stroke-width="1.5"/>
<line x1="816.4" y1="434.5" x2="811.4" y2="434.5" stroke="#000" stroke-width="1.5"/>
<text x="457.72" y="439.90" textLength="15.27" lengthAdjust="spacingAndGlyphs" style="font-size:14.1px">18</text>
<line x1="481.4" y1="407.5" x2="486.4" y2="407.5" stroke="#000" stroke-width="1.5"/>
<line x1="816.4" y1="407.5" x2="811.4" y2="407.5" stroke="#000" stroke-width="1.5"/>
<text x="457.58" y="411.90" textLength="15.37" lengthAdjust="spacingAndGlyphs" style="font-size:14.1px">20</text>
<line x1="481.4" y1="379.5" x2="486.4" y2="379.5" stroke="#000" stroke-width="1.5"/>
<line x1="816.4" y1="379.5" x2="811.4" y2="379.5" stroke="#000" stroke-width="1.5"/>
<text x="457.60" y="383.90" textLength="15.05" lengthAdjust="spacingAndGlyphs" style="font-size:14.1px">22</text>
<line x1="481.4" y1="351.5" x2="486.4" y2="351.5" stroke="#000" stroke-width="1.5"/>
<line x1="816.4" y1="351.5" x2="811.4" y2="351.5" stroke="#000" stroke-width="1.5"/>
<text x="457.58" y="355.90" textLength="15.37" lengthAdjust="spacingAndGlyphs" style="font-size:14.1px">24</text>
<rect x="481.4" y="351.45" width="335.0" height="194.84999999999997" fill="none" stroke="#000" stroke-width="1.5"/>
<text x="629.10" y="593.50" textLength="5.05" lengthAdjust="spacingAndGlyphs" style="font-size:14.0px">r</text>
<text x="638.13" y="593.50" textLength="30.53" lengthAdjust="spacingAndGlyphs" style="font-size:14.0px">(µm)</text>
<text x="469.43" y="330.65" textLength="104.89" lengthAdjust="spacingAndGlyphs" font-weight="bold" stroke="#000" stroke-width="0.3" style="font-size:14.0px">Concentration</text>
<text x="579.43" y="330.65" textLength="13.90" lengthAdjust="spacingAndGlyphs" font-weight="bold" stroke="#000" stroke-width="0.3" style="font-size:14.0px">in</text>
<text x="598.54" y="330.65" textLength="36.78" lengthAdjust="spacingAndGlyphs" font-weight="bold" stroke="#000" stroke-width="0.3" style="font-size:14.0px">solid</text>
<text x="640.43" y="330.65" textLength="13.90" lengthAdjust="spacingAndGlyphs" font-weight="bold" stroke="#000" stroke-width="0.3" style="font-size:14.0px">in</text>
<text x="659.38" y="330.65" textLength="23.92" lengthAdjust="spacingAndGlyphs" font-weight="bold" stroke="#000" stroke-width="0.3" style="font-size:14.0px">the</text>
<text x="688.42" y="330.65" textLength="52.89" lengthAdjust="spacingAndGlyphs" font-weight="bold" stroke="#000" stroke-width="0.3" style="font-size:14.0px">middle</text>
<text x="746.35" y="330.65" textLength="15.14" lengthAdjust="spacingAndGlyphs" font-weight="bold" stroke="#000" stroke-width="0.3" style="font-size:14.0px">of</text>
<text x="766.43" y="330.65" textLength="61.85" lengthAdjust="spacingAndGlyphs" font-weight="bold" stroke="#000" stroke-width="0.3" style="font-size:14.0px">Cathode</text>
<g transform="rotate(-90 437.80 449.18)">
<text x="356.81" y="449.18" textLength="90.81" lengthAdjust="spacingAndGlyphs" style="font-size:14.0px">Concentration</text>
<text x="452.01" y="449.18" textLength="54.66" lengthAdjust="spacingAndGlyphs" style="font-size:14.0px">(mol/dm</text>
<text x="507.18" y="443.48" textLength="6.26" lengthAdjust="spacingAndGlyphs" style="font-size:11.2px">3</text>
<text x="514.81" y="449.18" textLength="3.50" lengthAdjust="spacingAndGlyphs" style="font-size:14.0px">)</text>
</g>
</g>
</svg>
</body></html>
